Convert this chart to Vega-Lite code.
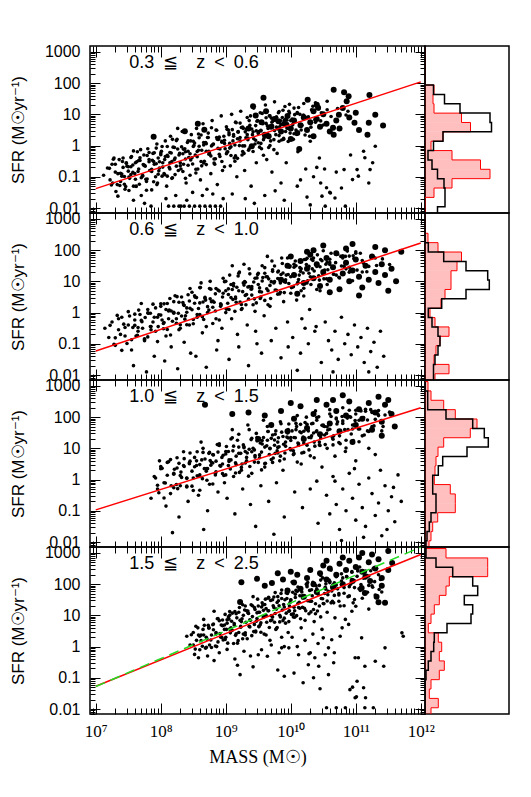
{
"$schema":"https://vega.github.io/schema/vega-lite/v6.json",
"padding":{"left":8,"top":43,"right":0,"bottom":0},
"config":{"view":{"stroke":"black","strokeWidth":1.5},"axis":{"tickColor":"black","tickWidth":1,"grid":false,"domain":false,"labelColor":"black","titleColor":"black","labelOverlap":false,"labelFlush":false}},
"datasets":{
"p1":[{"logM":7.12,"logSFR":-0.95},{"logM":7.18,"logSFR":-0.72},{"logM":7.22,"logSFR":-1.10},{"logM":7.25,"logSFR":-0.60},{"logM":7.28,"logSFR":-0.40},{"logM":7.30,"logSFR":-0.85},{"logM":7.33,"logSFR":-1.25},{"logM":7.36,"logSFR":-0.45},{"logM":7.38,"logSFR":-1.15},{"logM":7.40,"logSFR":-0.98},{"logM":7.42,"logSFR":-0.70},{"logM":7.45,"logSFR":-1.40},{"logM":7.47,"logSFR":-0.55},{"logM":7.50,"logSFR":-0.82},{"logM":7.52,"logSFR":-1.05},{"logM":7.55,"logSFR":-0.35},{"logM":7.57,"logSFR":-0.62},{"logM":7.58,"logSFR":-1.75},{"logM":7.60,"logSFR":-0.90},{"logM":7.62,"logSFR":-1.30},{"logM":7.64,"logSFR":-0.20},{"logM":7.66,"logSFR":-0.75},{"logM":7.68,"logSFR":-0.48},{"logM":7.70,"logSFR":-1.60},{"logM":7.72,"logSFR":-0.95},{"logM":7.74,"logSFR":-0.30},{"logM":7.75,"logSFR":-1.85},{"logM":7.76,"logSFR":-0.66},{"logM":7.78,"logSFR":-1.15},{"logM":7.80,"logSFR":-0.10},{"logM":7.82,"logSFR":-0.52},{"logM":7.84,"logSFR":-0.80},{"logM":7.85,"logSFR":-1.94},{"logM":7.86,"logSFR":-1.42},{"logM":7.88,"logSFR":-0.25},{"logM":7.90,"logSFR":-0.60},{"logM":7.92,"logSFR":-1.00},{"logM":7.94,"logSFR":0.05},{"logM":7.95,"logSFR":-1.20},{"logM":7.96,"logSFR":-0.40},{"logM":7.98,"logSFR":-0.72},{"logM":8.01,"logSFR":-0.18},{"logM":8.03,"logSFR":-0.55},{"logM":8.05,"logSFR":-0.90},{"logM":8.07,"logSFR":0.15},{"logM":8.08,"logSFR":-1.70},{"logM":8.09,"logSFR":-1.30},{"logM":8.11,"logSFR":-0.35},{"logM":8.12,"logSFR":-1.94},{"logM":8.13,"logSFR":-0.70},{"logM":8.15,"logSFR":0.30},{"logM":8.17,"logSFR":-1.05},{"logM":8.19,"logSFR":-0.05},{"logM":8.20,"logSFR":-1.94},{"logM":8.21,"logSFR":-0.45},{"logM":8.23,"logSFR":-1.60},{"logM":8.25,"logSFR":0.20},{"logM":8.26,"logSFR":0.55},{"logM":8.27,"logSFR":-0.80},{"logM":8.28,"logSFR":-1.94},{"logM":8.29,"logSFR":-0.25},{"logM":8.31,"logSFR":-1.94},{"logM":8.33,"logSFR":0.45},{"logM":8.35,"logSFR":-0.60},{"logM":8.36,"logSFR":-1.94},{"logM":8.37,"logSFR":-0.10},{"logM":8.39,"logSFR":-1.20},{"logM":8.40,"logSFR":-1.75},{"logM":8.41,"logSFR":0.10},{"logM":8.43,"logSFR":-0.38},{"logM":8.44,"logSFR":-1.94},{"logM":8.45,"logSFR":-0.95},{"logM":8.47,"logSFR":0.35},{"logM":8.49,"logSFR":-1.50},{"logM":8.51,"logSFR":0.00},{"logM":8.52,"logSFR":-1.94},{"logM":8.53,"logSFR":-0.30},{"logM":8.55,"logSFR":0.55},{"logM":8.57,"logSFR":-0.75},{"logM":8.59,"logSFR":0.25},{"logM":8.60,"logSFR":-1.94},{"logM":8.61,"logSFR":-1.10},{"logM":8.63,"logSFR":-0.15},{"logM":8.64,"logSFR":-1.60},{"logM":8.65,"logSFR":0.70},{"logM":8.67,"logSFR":-0.50},{"logM":8.68,"logSFR":-1.94},{"logM":8.69,"logSFR":0.10},{"logM":8.71,"logSFR":-1.40},{"logM":8.73,"logSFR":0.40},{"logM":8.75,"logSFR":-0.25},{"logM":8.76,"logSFR":-1.94},{"logM":8.77,"logSFR":-0.90},{"logM":8.79,"logSFR":0.80},{"logM":8.80,"logSFR":-1.55},{"logM":8.81,"logSFR":0.05},{"logM":8.83,"logSFR":-0.60},{"logM":8.84,"logSFR":-1.94},{"logM":8.85,"logSFR":0.50},{"logM":8.87,"logSFR":-1.25},{"logM":8.89,"logSFR":0.20},{"logM":8.91,"logSFR":-0.35},{"logM":8.92,"logSFR":-1.94},{"logM":8.93,"logSFR":0.95},{"logM":8.95,"logSFR":-0.80},{"logM":8.96,"logSFR":-1.70},{"logM":8.97,"logSFR":0.30},{"logM":8.99,"logSFR":-0.10},{"logM":9.01,"logSFR":0.60},{"logM":9.03,"logSFR":-0.20},{"logM":9.05,"logSFR":0.35},{"logM":9.07,"logSFR":-0.65},{"logM":9.09,"logSFR":1.00},{"logM":9.10,"logSFR":-1.55},{"logM":9.11,"logSFR":0.15},{"logM":9.13,"logSFR":-0.40},{"logM":9.15,"logSFR":0.75},{"logM":9.17,"logSFR":-1.00},{"logM":9.19,"logSFR":0.45},{"logM":9.21,"logSFR":0.00},{"logM":9.23,"logSFR":1.10},{"logM":9.25,"logSFR":-0.30},{"logM":9.27,"logSFR":0.55},{"logM":9.29,"logSFR":-0.80},{"logM":9.30,"logSFR":-1.70},{"logM":9.31,"logSFR":0.25},{"logM":9.33,"logSFR":0.90},{"logM":9.35,"logSFR":-0.15},{"logM":9.37,"logSFR":0.65},{"logM":9.39,"logSFR":-1.30},{"logM":9.41,"logSFR":0.35},{"logM":9.43,"logSFR":1.20},{"logM":9.44,"logSFR":-1.85},{"logM":9.45,"logSFR":0.05},{"logM":9.47,"logSFR":-0.55},{"logM":9.49,"logSFR":0.80},{"logM":9.51,"logSFR":0.45},{"logM":9.53,"logSFR":1.05},{"logM":9.55,"logSFR":-0.10},{"logM":9.57,"logSFR":0.70},{"logM":9.59,"logSFR":0.25},{"logM":9.60,"logSFR":-1.60},{"logM":9.61,"logSFR":1.30},{"logM":9.63,"logSFR":-0.45},{"logM":9.65,"logSFR":0.55},{"logM":9.67,"logSFR":0.95},{"logM":9.69,"logSFR":0.15},{"logM":9.71,"logSFR":-0.85},{"logM":9.73,"logSFR":0.80},{"logM":9.75,"logSFR":1.40},{"logM":9.76,"logSFR":-1.45},{"logM":9.77,"logSFR":0.35},{"logM":9.79,"logSFR":-0.25},{"logM":9.81,"logSFR":1.05},{"logM":9.83,"logSFR":0.60},{"logM":9.85,"logSFR":-1.20},{"logM":9.87,"logSFR":0.90},{"logM":9.89,"logSFR":0.20},{"logM":9.90,"logSFR":-1.75},{"logM":9.91,"logSFR":1.25},{"logM":9.93,"logSFR":-0.55},{"logM":9.95,"logSFR":0.70},{"logM":9.97,"logSFR":1.10},{"logM":9.99,"logSFR":0.40},{"logM":10.02,"logSFR":0.85},{"logM":10.05,"logSFR":1.20},{"logM":10.08,"logSFR":0.50},{"logM":10.10,"logSFR":-1.30},{"logM":10.11,"logSFR":-0.20},{"logM":10.14,"logSFR":1.00},{"logM":10.15,"logSFR":-1.10},{"logM":10.17,"logSFR":0.65},{"logM":10.20,"logSFR":1.35},{"logM":10.23,"logSFR":-0.75},{"logM":10.25,"logSFR":-1.65},{"logM":10.26,"logSFR":0.90},{"logM":10.29,"logSFR":0.30},{"logM":10.30,"logSFR":-1.90},{"logM":10.32,"logSFR":1.15},{"logM":10.35,"logSFR":-1.00},{"logM":10.38,"logSFR":0.75},{"logM":10.40,"logSFR":-0.70},{"logM":10.41,"logSFR":1.30},{"logM":10.44,"logSFR":-0.40},{"logM":10.46,"logSFR":-1.20},{"logM":10.47,"logSFR":1.05},{"logM":10.48,"logSFR":-1.62},{"logM":10.52,"logSFR":-0.75},{"logM":10.53,"logSFR":-1.94},{"logM":10.55,"logSFR":-1.35},{"logM":10.60,"logSFR":-1.50},{"logM":10.61,"logSFR":-1.52},{"logM":10.65,"logSFR":0.60},{"logM":10.68,"logSFR":-1.68},{"logM":10.70,"logSFR":-0.85},{"logM":10.78,"logSFR":-1.36},{"logM":10.82,"logSFR":-0.77},{"logM":10.84,"logSFR":-1.94},{"logM":10.88,"logSFR":1.10},{"logM":10.92,"logSFR":-0.30},{"logM":10.95,"logSFR":-1.09},{"logM":11.02,"logSFR":-0.77},{"logM":11.04,"logSFR":-0.98},{"logM":11.12,"logSFR":-0.18},{"logM":11.14,"logSFR":-0.39},{"logM":11.20,"logSFR":-1.20},{"logM":11.22,"logSFR":-0.77},{"logM":11.26,"logSFR":-0.55},{"logM":11.30,"logSFR":-0.02},
{"logM":7.21,"logSFR":-0.73},{"logM":7.24,"logSFR":-1.26},{"logM":7.27,"logSFR":-0.44},{"logM":7.31,"logSFR":-1.47},{"logM":7.34,"logSFR":-0.90},{"logM":7.37,"logSFR":-1.28},{"logM":7.41,"logSFR":-0.51},{"logM":7.44,"logSFR":-0.99},{"logM":7.48,"logSFR":-0.66},{"logM":7.51,"logSFR":-1.44},{"logM":7.54,"logSFR":-0.38},{"logM":7.57,"logSFR":-0.86},{"logM":7.61,"logSFR":-1.08},{"logM":7.63,"logSFR":-0.52},{"logM":7.67,"logSFR":-1.24},{"logM":7.69,"logSFR":-0.13},{"logM":7.73,"logSFR":-0.61},{"logM":7.77,"logSFR":-1.08},{"logM":7.79,"logSFR":-0.32},{"logM":7.83,"logSFR":-0.80},{"logM":7.87,"logSFR":-0.47},{"logM":7.89,"logSFR":-1.16},{"logM":7.93,"logSFR":-0.08},{"logM":7.97,"logSFR":-0.81},{"logM":8.00,"logSFR":-0.29},{"logM":8.02,"logSFR":-0.98},{"logM":8.06,"logSFR":-0.45},{"logM":8.10,"logSFR":-0.03},{"logM":8.14,"logSFR":-0.75},{"logM":8.16,"logSFR":-0.24},{"logM":8.18,"logSFR":-1.03},{"logM":8.22,"logSFR":-0.40},{"logM":8.24,"logSFR":0.16},{"logM":8.30,"logSFR":-0.55},{"logM":8.32,"logSFR":-0.04},{"logM":8.34,"logSFR":-0.83},{"logM":8.38,"logSFR":-0.20},{"logM":8.42,"logSFR":-0.63},{"logM":8.46,"logSFR":0.15},{"logM":8.48,"logSFR":-0.39},{"logM":8.50,"logSFR":-0.03},{"logM":8.54,"logSFR":-0.76},{"logM":8.56,"logSFR":-0.19},{"logM":8.58,"logSFR":0.37},{"logM":8.62,"logSFR":-0.51},{"logM":8.66,"logSFR":0.02},{"logM":8.70,"logSFR":-0.61},{"logM":8.72,"logSFR":0.26},{"logM":8.74,"logSFR":-0.28},{"logM":8.78,"logSFR":-0.01},{"logM":8.82,"logSFR":-0.43},{"logM":8.86,"logSFR":0.49},{"logM":8.88,"logSFR":-0.09},{"logM":8.90,"logSFR":0.27},{"logM":8.94,"logSFR":-0.51},{"logM":8.98,"logSFR":0.17},{"logM":9.02,"logSFR":-0.21},{"logM":9.04,"logSFR":0.50},{"logM":9.06,"logSFR":0.07},{"logM":9.08,"logSFR":-0.32},{"logM":9.12,"logSFR":0.35},{"logM":9.14,"logSFR":0.02},{"logM":9.16,"logSFR":0.73},{"logM":9.18,"logSFR":-0.41},{"logM":9.22,"logSFR":0.26},{"logM":9.24,"logSFR":0.58},{"logM":9.26,"logSFR":-0.01},{"logM":9.28,"logSFR":-0.25},{"logM":9.32,"logSFR":0.53},{"logM":9.34,"logSFR":0.24},{"logM":9.36,"logSFR":0.80},{"logM":9.38,"logSFR":-0.03},{"logM":9.42,"logSFR":0.44},{"logM":9.46,"logSFR":0.17},{"logM":9.48,"logSFR":0.78},{"logM":9.52,"logSFR":-0.05},{"logM":9.54,"logSFR":0.47},{"logM":9.56,"logSFR":1.03},{"logM":9.58,"logSFR":0.19},{"logM":9.62,"logSFR":0.71},{"logM":9.64,"logSFR":0.38},{"logM":9.66,"logSFR":-0.06},{"logM":9.68,"logSFR":0.95},{"logM":9.72,"logSFR":0.63},{"logM":9.74,"logSFR":0.19},{"logM":9.78,"logSFR":0.91},{"logM":9.80,"logSFR":0.53},{"logM":9.82,"logSFR":0.14},{"logM":9.84,"logSFR":0.80},{"logM":9.88,"logSFR":1.13},{"logM":9.92,"logSFR":0.45},{"logM":9.94,"logSFR":0.81},{"logM":9.96,"logSFR":0.13},{"logM":9.98,"logSFR":1.04},{"logM":10.03,"logSFR":0.67},{"logM":10.06,"logSFR":0.99},{"logM":10.09,"logSFR":0.36},{"logM":10.12,"logSFR":1.22},{"logM":10.16,"logSFR":0.65},{"logM":10.19,"logSFR":0.97},{"logM":10.22,"logSFR":0.34},{"logM":10.27,"logSFR":0.92},{"logM":10.31,"logSFR":0.59},{"logM":10.34,"logSFR":1.26},{"logM":10.37,"logSFR":0.83},{"logM":10.43,"logSFR":1.17},{"logM":10.50,"logSFR":0.66},{"logM":10.56,"logSFR":1.15},{"logM":10.62,"logSFR":0.93},{"logM":10.72,"logSFR":1.19},{"logM":10.85,"logSFR":0.98},
{"logM":7.26,"logSFR":-1.20},{"logM":7.30,"logSFR":-0.60},{"logM":7.34,"logSFR":-1.62},{"logM":7.38,"logSFR":-0.89},{"logM":7.42,"logSFR":-0.40},{"logM":7.46,"logSFR":-1.31},{"logM":7.50,"logSFR":-0.68},{"logM":7.54,"logSFR":-0.93},{"logM":7.58,"logSFR":-0.17},{"logM":7.62,"logSFR":-1.31},{"logM":7.66,"logSFR":-0.48},{"logM":7.70,"logSFR":-1.03},{"logM":7.74,"logSFR":-0.63},{"logM":7.78,"logSFR":-1.43},{"logM":7.82,"logSFR":-0.22},{"logM":7.86,"logSFR":-0.83},{"logM":7.90,"logSFR":-0.23},{"logM":7.94,"logSFR":-1.25},{"logM":7.98,"logSFR":-0.52},{"logM":8.02,"logSFR":-0.03},{"logM":8.06,"logSFR":-0.93},{"logM":8.10,"logSFR":-0.31},{"logM":8.14,"logSFR":-0.55},{"logM":8.18,"logSFR":0.20},{"logM":8.22,"logSFR":-0.93},{"logM":8.26,"logSFR":-0.11},{"logM":8.30,"logSFR":-0.65},{"logM":8.34,"logSFR":-0.26},{"logM":8.38,"logSFR":-1.05},{"logM":8.42,"logSFR":0.15},{"logM":8.46,"logSFR":-0.46},{"logM":8.50,"logSFR":0.14},{"logM":8.54,"logSFR":-0.88},{"logM":8.58,"logSFR":-0.15},{"logM":8.62,"logSFR":0.34},{"logM":8.66,"logSFR":-0.56},{"logM":8.70,"logSFR":0.06},{"logM":8.74,"logSFR":-0.18},{"logM":8.78,"logSFR":0.57},{"logM":8.82,"logSFR":-0.56},{"logM":8.86,"logSFR":0.26},{"logM":8.90,"logSFR":-0.28},{"logM":8.94,"logSFR":0.11},{"logM":8.98,"logSFR":-0.68},{"logM":9.02,"logSFR":0.52},{"logM":9.06,"logSFR":-0.08},{"logM":9.10,"logSFR":0.51},{"logM":9.14,"logSFR":-0.50},{"logM":9.18,"logSFR":0.22},{"logM":9.22,"logSFR":0.72},{"logM":9.26,"logSFR":-0.19},{"logM":9.30,"logSFR":0.44},{"logM":9.34,"logSFR":0.19},{"logM":9.38,"logSFR":0.95},{"logM":9.42,"logSFR":-0.19},{"logM":9.46,"logSFR":0.64},{"logM":9.50,"logSFR":0.09},{"logM":9.54,"logSFR":0.49},{"logM":9.58,"logSFR":-0.31},{"logM":9.62,"logSFR":0.89},{"logM":9.66,"logSFR":0.29},{"logM":9.70,"logSFR":0.88},{"logM":9.74,"logSFR":-0.13},{"logM":9.78,"logSFR":0.59},{"logM":9.82,"logSFR":1.09},{"logM":9.86,"logSFR":0.18},{"logM":9.90,"logSFR":0.81},{"logM":9.94,"logSFR":0.56},{"logM":9.98,"logSFR":1.32},{"logM":10.04,"logSFR":0.20},{"logM":10.10,"logSFR":1.03},{"logM":10.16,"logSFR":0.50},{"logM":10.22,"logSFR":0.91},{"logM":10.30,"logSFR":0.14},{"logM":10.38,"logSFR":1.37},{"logM":10.46,"logSFR":0.79},{"logM":10.56,"logSFR":1.42},
{"logM":7.40,"logSFR":-0.91},{"logM":7.44,"logSFR":-1.24},{"logM":7.47,"logSFR":-0.57},{"logM":7.51,"logSFR":-1.01},{"logM":7.54,"logSFR":-0.68},{"logM":7.58,"logSFR":-1.30},{"logM":7.61,"logSFR":-0.55},{"logM":7.65,"logSFR":-0.83},{"logM":7.68,"logSFR":-0.39},{"logM":7.72,"logSFR":-0.98},{"logM":7.75,"logSFR":-0.63},{"logM":7.79,"logSFR":-1.07},{"logM":7.82,"logSFR":-0.45},{"logM":7.86,"logSFR":-0.76},{"logM":7.89,"logSFR":-0.51},{"logM":7.93,"logSFR":-0.58},{"logM":7.96,"logSFR":-0.92},{"logM":8.00,"logSFR":-0.24},{"logM":8.03,"logSFR":-0.69},{"logM":8.07,"logSFR":-0.35},{"logM":8.10,"logSFR":-0.98},{"logM":8.14,"logSFR":-0.22},{"logM":8.17,"logSFR":-0.51},{"logM":8.21,"logSFR":-0.06},{"logM":8.24,"logSFR":-0.66},{"logM":8.28,"logSFR":-0.30},{"logM":8.31,"logSFR":-0.75},{"logM":8.35,"logSFR":-0.12},{"logM":8.38,"logSFR":-0.43},{"logM":8.42,"logSFR":-0.18},{"logM":8.45,"logSFR":-0.26},{"logM":8.49,"logSFR":-0.59},{"logM":8.52,"logSFR":0.08},{"logM":8.56,"logSFR":-0.36},{"logM":8.59,"logSFR":-0.02},{"logM":8.63,"logSFR":-0.65},{"logM":8.66,"logSFR":0.10},{"logM":8.70,"logSFR":-0.18},{"logM":8.73,"logSFR":0.26},{"logM":8.77,"logSFR":-0.33},{"logM":8.80,"logSFR":0.03},{"logM":8.84,"logSFR":-0.42},{"logM":8.87,"logSFR":0.20},{"logM":8.91,"logSFR":-0.11},{"logM":8.94,"logSFR":0.14},{"logM":8.98,"logSFR":0.07},{"logM":9.01,"logSFR":-0.26},{"logM":9.05,"logSFR":0.41},{"logM":9.08,"logSFR":-0.04},{"logM":9.12,"logSFR":0.30},{"logM":9.15,"logSFR":-0.33},{"logM":9.19,"logSFR":0.43},{"logM":9.22,"logSFR":0.15},{"logM":9.26,"logSFR":0.59},{"logM":9.29,"logSFR":-0.01},{"logM":9.33,"logSFR":0.35},{"logM":9.36,"logSFR":-0.10},{"logM":9.40,"logSFR":0.53},{"logM":9.43,"logSFR":0.22},{"logM":9.47,"logSFR":0.47},{"logM":9.50,"logSFR":0.39},{"logM":9.54,"logSFR":0.07},{"logM":9.57,"logSFR":0.73},{"logM":9.61,"logSFR":0.29},{"logM":9.64,"logSFR":0.63},{"logM":9.68,"logSFR":0.00},{"logM":9.71,"logSFR":0.75},{"logM":9.75,"logSFR":0.48},{"logM":9.78,"logSFR":0.91},{"logM":9.82,"logSFR":0.32},{"logM":9.85,"logSFR":0.68},{"logM":9.89,"logSFR":0.23},{"logM":9.92,"logSFR":0.85},{"logM":9.96,"logSFR":0.55},{"logM":10.00,"logSFR":0.80},{"logM":10.05,"logSFR":0.38},{"logM":10.10,"logSFR":1.06},{"logM":10.15,"logSFR":0.62},{"logM":10.20,"logSFR":0.97},
{"logM":7.89,"logSFR":0.28,"big":1},{"logM":8.37,"logSFR":0.46,"big":1},{"logM":8.57,"logSFR":0.70,"big":1},{"logM":8.67,"logSFR":0.51,"big":1},{"logM":9.35,"logSFR":0.55,"big":1},{"logM":9.40,"logSFR":-0.02,"big":1},{"logM":9.42,"logSFR":1.26,"big":1},{"logM":9.46,"logSFR":0.96,"big":1},{"logM":9.55,"logSFR":0.75,"big":1},{"logM":9.58,"logSFR":1.53,"big":1},{"logM":9.60,"logSFR":0.35,"big":1},{"logM":9.62,"logSFR":1.10,"big":1},{"logM":9.66,"logSFR":0.30,"big":1},{"logM":9.70,"logSFR":0.60,"big":1},{"logM":9.75,"logSFR":0.85,"big":1},{"logM":9.81,"logSFR":0.78,"big":1},{"logM":9.85,"logSFR":0.45,"big":1},{"logM":9.90,"logSFR":0.70,"big":1},{"logM":9.95,"logSFR":0.95,"big":1},{"logM":10.00,"logSFR":0.21,"big":1},{"logM":10.00,"logSFR":0.55,"big":1},{"logM":10.05,"logSFR":0.80,"big":1},{"logM":10.10,"logSFR":0.40,"big":1},{"logM":10.13,"logSFR":-0.11,"big":1},{"logM":10.15,"logSFR":0.65,"big":1},{"logM":10.20,"logSFR":0.90,"big":1},{"logM":10.25,"logSFR":0.50,"big":1},{"logM":10.26,"logSFR":1.47,"big":1},{"logM":10.30,"logSFR":0.75,"big":1},{"logM":10.35,"logSFR":0.30,"big":1},{"logM":10.35,"logSFR":1.10,"big":1},{"logM":10.40,"logSFR":0.85,"big":1},{"logM":10.40,"logSFR":1.31,"big":1},{"logM":10.42,"logSFR":1.21,"big":1},{"logM":10.45,"logSFR":0.60,"big":1},{"logM":10.50,"logSFR":1.00,"big":1},{"logM":10.55,"logSFR":0.70,"big":1},{"logM":10.60,"logSFR":0.45,"big":1},{"logM":10.65,"logSFR":0.57,"big":1},{"logM":10.66,"logSFR":0.35,"big":1},{"logM":10.66,"logSFR":1.79,"big":1},{"logM":10.70,"logSFR":0.80,"big":1},{"logM":10.74,"logSFR":0.99,"big":1},{"logM":10.75,"logSFR":0.55,"big":1},{"logM":10.80,"logSFR":1.20,"big":1},{"logM":10.82,"logSFR":1.71,"big":1},{"logM":10.86,"logSFR":1.42,"big":1},{"logM":10.89,"logSFR":1.58,"big":1},{"logM":10.90,"logSFR":0.90,"big":1},{"logM":10.98,"logSFR":0.73,"big":1},{"logM":11.00,"logSFR":1.05,"big":1},{"logM":11.05,"logSFR":0.50,"big":1},{"logM":11.18,"logSFR":0.35,"big":1},{"logM":11.20,"logSFR":0.73,"big":1},{"logM":11.21,"logSFR":1.62,"big":1},{"logM":11.30,"logSFR":0.99,"big":1},{"logM":11.42,"logSFR":0.64,"big":1}],
"p2":[{"logM":7.14,"logSFR":-0.50},{"logM":7.20,"logSFR":-0.80},{"logM":7.25,"logSFR":-0.30},{"logM":7.30,"logSFR":-1.05},{"logM":7.35,"logSFR":-0.55},{"logM":7.40,"logSFR":-0.15},{"logM":7.45,"logSFR":-0.75},{"logM":7.50,"logSFR":-0.40},{"logM":7.55,"logSFR":-1.20},{"logM":7.58,"logSFR":-1.70},{"logM":7.60,"logSFR":-0.05},{"logM":7.65,"logSFR":-0.60},{"logM":7.70,"logSFR":-0.25},{"logM":7.75,"logSFR":-0.90},{"logM":7.78,"logSFR":-1.90},{"logM":7.80,"logSFR":0.10},{"logM":7.85,"logSFR":-0.45},{"logM":7.90,"logSFR":-1.40},{"logM":7.95,"logSFR":-0.15},{"logM":8.00,"logSFR":0.20},{"logM":8.04,"logSFR":-0.35},{"logM":8.06,"logSFR":-1.55},{"logM":8.08,"logSFR":-0.75},{"logM":8.12,"logSFR":0.05},{"logM":8.14,"logSFR":0.45},{"logM":8.16,"logSFR":-1.10},{"logM":8.20,"logSFR":0.35},{"logM":8.24,"logSFR":-0.20},{"logM":8.26,"logSFR":-1.80},{"logM":8.28,"logSFR":-0.55},{"logM":8.32,"logSFR":0.50},{"logM":8.36,"logSFR":-0.95},{"logM":8.38,"logSFR":-0.10},{"logM":8.40,"logSFR":0.15},{"logM":8.44,"logSFR":-0.40},{"logM":8.46,"logSFR":-1.30},{"logM":8.48,"logSFR":0.65},{"logM":8.52,"logSFR":0.30},{"logM":8.54,"logSFR":-1.40},{"logM":8.56,"logSFR":-0.15},{"logM":8.60,"logSFR":0.80},{"logM":8.62,"logSFR":0.95},{"logM":8.64,"logSFR":-0.65},{"logM":8.68,"logSFR":0.45},{"logM":8.70,"logSFR":-1.75},{"logM":8.72,"logSFR":0.00},{"logM":8.76,"logSFR":1.00},{"logM":8.78,"logSFR":0.35},{"logM":8.80,"logSFR":-0.35},{"logM":8.84,"logSFR":0.60},{"logM":8.86,"logSFR":-1.20},{"logM":8.88,"logSFR":-0.90},{"logM":8.92,"logSFR":0.20},{"logM":8.94,"logSFR":-0.50},{"logM":8.96,"logSFR":1.10},{"logM":9.00,"logSFR":0.70},{"logM":9.03,"logSFR":0.30},{"logM":9.05,"logSFR":-1.50},{"logM":9.06,"logSFR":1.20},{"logM":9.09,"logSFR":-0.20},{"logM":9.10,"logSFR":1.50},{"logM":9.12,"logSFR":0.85},{"logM":9.15,"logSFR":0.45},{"logM":9.18,"logSFR":-0.70},{"logM":9.20,"logSFR":-1.10},{"logM":9.21,"logSFR":1.30},{"logM":9.24,"logSFR":0.10},{"logM":9.27,"logSFR":0.95},{"logM":9.28,"logSFR":1.55},{"logM":9.30,"logSFR":0.55},{"logM":9.33,"logSFR":-0.40},{"logM":9.35,"logSFR":-1.70},{"logM":9.36,"logSFR":1.40},{"logM":9.39,"logSFR":0.75},{"logM":9.42,"logSFR":0.25},{"logM":9.45,"logSFR":1.10},{"logM":9.46,"logSFR":-0.60},{"logM":9.48,"logSFR":-1.00},{"logM":9.50,"logSFR":0.90},{"logM":9.53,"logSFR":0.45},{"logM":9.55,"logSFR":-1.30},{"logM":9.56,"logSFR":1.50},{"logM":9.59,"logSFR":-0.10},{"logM":9.62,"logSFR":1.15},{"logM":9.64,"logSFR":1.80},{"logM":9.65,"logSFR":0.70},{"logM":9.68,"logSFR":0.20},{"logM":9.70,"logSFR":-0.90},{"logM":9.71,"logSFR":1.65},{"logM":9.74,"logSFR":0.95},{"logM":9.77,"logSFR":-0.50},{"logM":9.80,"logSFR":1.30},{"logM":9.83,"logSFR":0.60},{"logM":9.85,"logSFR":-1.45},{"logM":9.86,"logSFR":1.75},{"logM":9.89,"logSFR":0.35},{"logM":9.92,"logSFR":1.05},{"logM":9.95,"logSFR":-0.30},{"logM":9.96,"logSFR":-1.10},{"logM":9.98,"logSFR":1.45},{"logM":10.01,"logSFR":0.80},{"logM":10.03,"logSFR":-0.80},{"logM":10.05,"logSFR":1.55},{"logM":10.09,"logSFR":0.40},{"logM":10.10,"logSFR":-1.85},{"logM":10.13,"logSFR":1.20},{"logM":10.15,"logSFR":-1.30},{"logM":10.17,"logSFR":-0.20},{"logM":10.21,"logSFR":1.70},{"logM":10.22,"logSFR":-0.50},{"logM":10.25,"logSFR":0.95},{"logM":10.27,"logSFR":-1.00},{"logM":10.29,"logSFR":0.10},{"logM":10.33,"logSFR":1.40},{"logM":10.37,"logSFR":-0.60},{"logM":10.39,"logSFR":-0.45},{"logM":10.41,"logSFR":1.85},{"logM":10.45,"logSFR":0.70},{"logM":10.47,"logSFR":-1.60},{"logM":10.49,"logSFR":1.25},{"logM":10.53,"logSFR":-0.30},{"logM":10.56,"logSFR":0.90},{"logM":10.58,"logSFR":-0.90},{"logM":10.60,"logSFR":1.60},{"logM":10.63,"logSFR":-1.20},{"logM":10.65,"logSFR":-1.90},{"logM":10.68,"logSFR":-0.60},{"logM":10.70,"logSFR":1.20},{"logM":10.73,"logSFR":-1.50},{"logM":10.78,"logSFR":-0.15},{"logM":10.80,"logSFR":1.75},{"logM":10.83,"logSFR":-1.00},{"logM":10.88,"logSFR":-0.70},{"logM":10.90,"logSFR":1.45},{"logM":10.93,"logSFR":-1.35},{"logM":10.98,"logSFR":-0.40},{"logM":11.00,"logSFR":1.90},{"logM":11.03,"logSFR":-1.10},{"logM":11.08,"logSFR":-0.80},{"logM":11.10,"logSFR":1.30},{"logM":11.13,"logSFR":-1.60},{"logM":11.18,"logSFR":-0.50},{"logM":11.20,"logSFR":-1.90},{"logM":11.23,"logSFR":-1.25},{"logM":11.28,"logSFR":-0.95},{"logM":11.33,"logSFR":-1.75},{"logM":11.38,"logSFR":-0.60},{"logM":11.43,"logSFR":-1.40},
{"logM":7.22,"logSFR":-0.41},{"logM":7.28,"logSFR":-1.02},{"logM":7.33,"logSFR":-0.09},{"logM":7.38,"logSFR":-0.70},{"logM":7.43,"logSFR":-0.37},{"logM":7.48,"logSFR":-0.99},{"logM":7.52,"logSFR":-0.11},{"logM":7.57,"logSFR":-0.48},{"logM":7.62,"logSFR":-0.75},{"logM":7.66,"logSFR":0.08},{"logM":7.71,"logSFR":-0.29},{"logM":7.75,"logSFR":-0.86},{"logM":7.81,"logSFR":-0.02},{"logM":7.84,"logSFR":-0.45},{"logM":7.88,"logSFR":0.27},{"logM":7.92,"logSFR":-0.60},{"logM":7.97,"logSFR":-0.07},{"logM":8.02,"logSFR":-0.24},{"logM":8.05,"logSFR":0.28},{"logM":8.10,"logSFR":-0.54},{"logM":8.13,"logSFR":0.08},{"logM":8.18,"logSFR":-0.28},{"logM":8.22,"logSFR":0.54},{"logM":8.27,"logSFR":-0.02},{"logM":8.30,"logSFR":-0.50},{"logM":8.34,"logSFR":0.32},{"logM":8.37,"logSFR":-0.21},{"logM":8.42,"logSFR":0.57},{"logM":8.45,"logSFR":0.14},{"logM":8.50,"logSFR":-0.22},{"logM":8.53,"logSFR":0.49},{"logM":8.58,"logSFR":0.13},{"logM":8.61,"logSFR":0.80},{"logM":8.66,"logSFR":-0.22},{"logM":8.69,"logSFR":0.40},{"logM":8.74,"logSFR":0.08},{"logM":8.77,"logSFR":0.75},{"logM":8.82,"logSFR":0.33},{"logM":8.85,"logSFR":-0.20},{"logM":8.90,"logSFR":0.69},{"logM":8.93,"logSFR":0.25},{"logM":8.98,"logSFR":0.99},{"logM":9.01,"logSFR":0.11},{"logM":9.04,"logSFR":0.58},{"logM":9.08,"logSFR":0.90},{"logM":9.11,"logSFR":0.42},{"logM":9.14,"logSFR":0.04},{"logM":9.17,"logSFR":0.81},{"logM":9.19,"logSFR":1.17},{"logM":9.22,"logSFR":0.34},{"logM":9.26,"logSFR":0.67},{"logM":9.29,"logSFR":0.99},{"logM":9.31,"logSFR":0.25},{"logM":9.34,"logSFR":0.82},{"logM":9.37,"logSFR":1.24},{"logM":9.40,"logSFR":0.56},{"logM":9.43,"logSFR":0.98},{"logM":9.47,"logSFR":0.31},{"logM":9.49,"logSFR":1.22},{"logM":9.52,"logSFR":0.79},{"logM":9.54,"logSFR":0.50},{"logM":9.57,"logSFR":1.12},{"logM":9.60,"logSFR":1.44},{"logM":9.63,"logSFR":0.76},{"logM":9.66,"logSFR":1.08},{"logM":9.69,"logSFR":0.45},{"logM":9.72,"logSFR":1.37},{"logM":9.75,"logSFR":0.99},{"logM":9.78,"logSFR":0.71},{"logM":9.81,"logSFR":1.33},{"logM":9.84,"logSFR":0.95},{"logM":9.87,"logSFR":1.57},{"logM":9.90,"logSFR":0.64},{"logM":9.93,"logSFR":1.20},{"logM":9.97,"logSFR":0.93},{"logM":9.99,"logSFR":1.49},{"logM":10.02,"logSFR":0.81},{"logM":10.04,"logSFR":1.23},{"logM":10.07,"logSFR":1.65},{"logM":10.11,"logSFR":0.97},{"logM":10.14,"logSFR":1.44},{"logM":10.16,"logSFR":0.70},{"logM":10.19,"logSFR":1.27},{"logM":10.23,"logSFR":1.70},{"logM":10.26,"logSFR":1.02},{"logM":10.28,"logSFR":1.48},{"logM":10.31,"logSFR":0.90},{"logM":10.34,"logSFR":1.67},{"logM":10.36,"logSFR":1.33},{"logM":10.43,"logSFR":1.18},{"logM":10.46,"logSFR":1.70},{"logM":10.51,"logSFR":1.08},{"logM":10.54,"logSFR":1.55},{"logM":10.57,"logSFR":1.37},{"logM":10.62,"logSFR":1.90},{"logM":10.66,"logSFR":1.23},{"logM":10.69,"logSFR":1.60},{"logM":10.74,"logSFR":1.13},{"logM":10.77,"logSFR":1.80},{"logM":10.82,"logSFR":1.48},{"logM":10.87,"logSFR":1.97},{"logM":10.91,"logSFR":1.34},{"logM":10.97,"logSFR":1.73},{"logM":11.02,"logSFR":1.36},{"logM":11.07,"logSFR":1.90},{"logM":11.12,"logSFR":1.58},{"logM":11.17,"logSFR":1.31},{"logM":11.24,"logSFR":1.76},{"logM":11.32,"logSFR":1.51},{"logM":11.41,"logSFR":1.72},{"logM":11.52,"logSFR":1.54},
{"logM":7.30,"logSFR":-0.81},{"logM":7.35,"logSFR":-0.20},{"logM":7.40,"logSFR":-1.21},{"logM":7.45,"logSFR":-0.48},{"logM":7.50,"logSFR":0.03},{"logM":7.55,"logSFR":-0.87},{"logM":7.60,"logSFR":-0.24},{"logM":7.65,"logSFR":-0.48},{"logM":7.70,"logSFR":0.29},{"logM":7.75,"logSFR":-0.84},{"logM":7.80,"logSFR":-0.01},{"logM":7.85,"logSFR":-0.55},{"logM":7.90,"logSFR":-0.15},{"logM":7.95,"logSFR":-0.93},{"logM":8.00,"logSFR":0.28},{"logM":8.05,"logSFR":-0.32},{"logM":8.10,"logSFR":0.29},{"logM":8.15,"logSFR":-0.72},{"logM":8.20,"logSFR":0.01},{"logM":8.25,"logSFR":0.51},{"logM":8.30,"logSFR":-0.39},{"logM":8.35,"logSFR":0.25},{"logM":8.40,"logSFR":0.01},{"logM":8.45,"logSFR":0.77},{"logM":8.50,"logSFR":-0.36},{"logM":8.55,"logSFR":0.48},{"logM":8.60,"logSFR":-0.06},{"logM":8.65,"logSFR":0.34},{"logM":8.70,"logSFR":-0.45},{"logM":8.75,"logSFR":0.77},{"logM":8.80,"logSFR":0.17},{"logM":8.85,"logSFR":0.77},{"logM":8.90,"logSFR":-0.24},{"logM":8.95,"logSFR":0.50},{"logM":9.00,"logSFR":1.00},{"logM":9.05,"logSFR":0.10},{"logM":9.10,"logSFR":0.74},{"logM":9.15,"logSFR":0.50},{"logM":9.20,"logSFR":1.26},{"logM":9.25,"logSFR":0.13},{"logM":9.30,"logSFR":0.97},{"logM":9.35,"logSFR":0.43},{"logM":9.40,"logSFR":0.83},{"logM":9.45,"logSFR":0.04},{"logM":9.50,"logSFR":1.26},{"logM":9.55,"logSFR":0.66},{"logM":9.60,"logSFR":1.26},{"logM":9.65,"logSFR":0.25},{"logM":9.70,"logSFR":0.99},{"logM":9.75,"logSFR":1.49},{"logM":9.80,"logSFR":0.59},{"logM":9.85,"logSFR":1.22},{"logM":9.90,"logSFR":0.99},{"logM":9.95,"logSFR":1.75},{"logM":10.00,"logSFR":0.62},{"logM":10.05,"logSFR":1.45},{"logM":10.10,"logSFR":0.92},{"logM":10.15,"logSFR":1.32},{"logM":10.20,"logSFR":0.53},{"logM":10.25,"logSFR":1.74},{"logM":10.30,"logSFR":1.15},{"logM":10.35,"logSFR":1.75},{"logM":10.40,"logSFR":0.74},{"logM":10.45,"logSFR":1.47},{"logM":10.50,"logSFR":1.98},{"logM":10.55,"logSFR":1.08},{"logM":10.60,"logSFR":1.71},{"logM":10.65,"logSFR":1.47},{"logM":10.70,"logSFR":1.86},{"logM":10.75,"logSFR":1.11},{"logM":10.80,"logSFR":1.82},{"logM":10.85,"logSFR":1.40},{"logM":10.90,"logSFR":1.81},{"logM":10.95,"logSFR":1.02},{"logM":11.00,"logSFR":1.95},{"logM":11.10,"logSFR":1.67},{"logM":11.20,"logSFR":1.48},{"logM":11.30,"logSFR":1.75},
{"logM":7.60,"logSFR":-0.41},{"logM":7.64,"logSFR":-0.73},{"logM":7.68,"logSFR":-0.06},{"logM":7.72,"logSFR":-0.50},{"logM":7.76,"logSFR":-0.16},{"logM":7.80,"logSFR":-0.78},{"logM":7.84,"logSFR":-0.02},{"logM":7.88,"logSFR":-0.30},{"logM":7.92,"logSFR":0.15},{"logM":7.96,"logSFR":-0.45},{"logM":8.00,"logSFR":-0.08},{"logM":8.04,"logSFR":-0.52},{"logM":8.08,"logSFR":0.10},{"logM":8.12,"logSFR":-0.20},{"logM":8.16,"logSFR":0.05},{"logM":8.20,"logSFR":-0.02},{"logM":8.24,"logSFR":-0.34},{"logM":8.28,"logSFR":0.33},{"logM":8.32,"logSFR":-0.11},{"logM":8.36,"logSFR":0.23},{"logM":8.40,"logSFR":-0.39},{"logM":8.44,"logSFR":0.37},{"logM":8.48,"logSFR":0.09},{"logM":8.52,"logSFR":0.54},{"logM":8.56,"logSFR":-0.06},{"logM":8.60,"logSFR":0.31},{"logM":8.64,"logSFR":-0.13},{"logM":8.68,"logSFR":0.49},{"logM":8.72,"logSFR":0.19},{"logM":8.76,"logSFR":0.44},{"logM":8.80,"logSFR":0.37},{"logM":8.84,"logSFR":0.05},{"logM":8.88,"logSFR":0.72},{"logM":8.92,"logSFR":0.28},{"logM":8.96,"logSFR":0.62},{"logM":9.00,"logSFR":0.00},{"logM":9.04,"logSFR":0.76},{"logM":9.08,"logSFR":0.48},{"logM":9.12,"logSFR":0.93},{"logM":9.16,"logSFR":0.33},{"logM":9.20,"logSFR":0.70},{"logM":9.24,"logSFR":0.26},{"logM":9.28,"logSFR":0.88},{"logM":9.32,"logSFR":0.58},{"logM":9.36,"logSFR":0.83},{"logM":9.40,"logSFR":0.76},{"logM":9.44,"logSFR":0.44},{"logM":9.48,"logSFR":1.11},{"logM":9.52,"logSFR":0.67},{"logM":9.56,"logSFR":1.01},{"logM":9.60,"logSFR":0.39},{"logM":9.64,"logSFR":1.15},{"logM":9.68,"logSFR":0.87},{"logM":9.72,"logSFR":1.32},{"logM":9.76,"logSFR":0.72},{"logM":9.80,"logSFR":1.09},{"logM":9.84,"logSFR":0.65},{"logM":9.88,"logSFR":1.27},{"logM":9.92,"logSFR":0.97},{"logM":9.96,"logSFR":1.22},{"logM":10.00,"logSFR":1.15},{"logM":10.04,"logSFR":0.83},{"logM":10.08,"logSFR":1.50},{"logM":10.12,"logSFR":1.06},{"logM":10.16,"logSFR":1.40},{"logM":10.20,"logSFR":0.78},{"logM":10.24,"logSFR":1.54},{"logM":10.28,"logSFR":1.26},{"logM":10.32,"logSFR":1.71},{"logM":10.36,"logSFR":1.11},{"logM":10.40,"logSFR":1.48},{"logM":10.44,"logSFR":1.04},{"logM":10.48,"logSFR":1.66},{"logM":10.52,"logSFR":1.36},{"logM":10.56,"logSFR":1.61},{"logM":10.60,"logSFR":1.54},{"logM":10.66,"logSFR":1.23},{"logM":10.72,"logSFR":1.87},{"logM":10.78,"logSFR":1.49},{"logM":10.84,"logSFR":1.80},{"logM":10.90,"logSFR":1.29},{"logM":10.96,"logSFR":1.82},
{"logM":9.85,"logSFR":1.05,"big":1},{"logM":9.95,"logSFR":1.50,"big":1},{"logM":10.00,"logSFR":1.80,"big":1},{"logM":10.05,"logSFR":1.20,"big":1},{"logM":10.10,"logSFR":0.60,"big":1},{"logM":10.15,"logSFR":1.65,"big":1},{"logM":10.20,"logSFR":0.95,"big":1},{"logM":10.25,"logSFR":1.40,"big":1},{"logM":10.25,"logSFR":1.95,"big":1},{"logM":10.30,"logSFR":1.85,"big":1},{"logM":10.35,"logSFR":1.10,"big":1},{"logM":10.35,"logSFR":2.00,"big":1},{"logM":10.40,"logSFR":1.55,"big":1},{"logM":10.45,"logSFR":0.85,"big":1},{"logM":10.50,"logSFR":1.30,"big":1},{"logM":10.50,"logSFR":2.15,"big":1},{"logM":10.55,"logSFR":1.75,"big":1},{"logM":10.60,"logSFR":1.05,"big":1},{"logM":10.60,"logSFR":0.65,"big":1},{"logM":10.65,"logSFR":1.45,"big":1},{"logM":10.70,"logSFR":1.90,"big":1},{"logM":10.75,"logSFR":0.75,"big":1},{"logM":10.80,"logSFR":1.25,"big":1},{"logM":10.85,"logSFR":1.60,"big":1},{"logM":10.85,"logSFR":2.05,"big":1},{"logM":10.90,"logSFR":1.00,"big":1},{"logM":10.95,"logSFR":1.35,"big":1},{"logM":10.95,"logSFR":2.20,"big":1},{"logM":11.00,"logSFR":1.70,"big":1},{"logM":11.05,"logSFR":1.15,"big":1},{"logM":11.05,"logSFR":0.55,"big":1},{"logM":11.10,"logSFR":0.80,"big":1},{"logM":11.15,"logSFR":1.50,"big":1},{"logM":11.20,"logSFR":1.05,"big":1},{"logM":11.25,"logSFR":1.80,"big":1},{"logM":11.30,"logSFR":1.30,"big":1},{"logM":11.30,"logSFR":2.10,"big":1},{"logM":11.35,"logSFR":0.95,"big":1},{"logM":11.40,"logSFR":1.55,"big":1},{"logM":11.45,"logSFR":1.20,"big":1},{"logM":11.45,"logSFR":2.00,"big":1},{"logM":11.50,"logSFR":0.70,"big":1},{"logM":11.55,"logSFR":1.40,"big":1},{"logM":11.62,"logSFR":1.00,"big":1},{"logM":11.70,"logSFR":1.95,"big":1}],
"p3":[{"logM":7.85,"logSFR":-0.60},{"logM":7.90,"logSFR":0.10},{"logM":7.95,"logSFR":-0.30},{"logM":7.98,"logSFR":0.60},{"logM":8.00,"logSFR":0.35},{"logM":8.05,"logSFR":-0.10},{"logM":8.08,"logSFR":-0.85},{"logM":8.10,"logSFR":0.55},{"logM":8.15,"logSFR":-0.45},{"logM":8.18,"logSFR":-1.70},{"logM":8.20,"logSFR":0.20},{"logM":8.25,"logSFR":0.70},{"logM":8.28,"logSFR":-1.20},{"logM":8.30,"logSFR":-0.20},{"logM":8.35,"logSFR":0.45},{"logM":8.40,"logSFR":0.05},{"logM":8.42,"logSFR":-0.70},{"logM":8.45,"logSFR":0.85},{"logM":8.50,"logSFR":-0.35},{"logM":8.55,"logSFR":0.60},{"logM":8.58,"logSFR":-0.50},{"logM":8.60,"logSFR":0.15},{"logM":8.62,"logSFR":1.20},{"logM":8.65,"logSFR":1.00},{"logM":8.66,"logSFR":-1.60},{"logM":8.70,"logSFR":0.35},{"logM":8.72,"logSFR":-1.00},{"logM":8.75,"logSFR":-0.15},{"logM":8.78,"logSFR":0.55},{"logM":8.80,"logSFR":0.80},{"logM":8.85,"logSFR":0.25},{"logM":8.88,"logSFR":-0.40},{"logM":8.90,"logSFR":1.15},{"logM":8.95,"logSFR":0.50},{"logM":8.98,"logSFR":-0.10},{"logM":9.00,"logSFR":0.90},{"logM":9.02,"logSFR":-0.60},{"logM":9.04,"logSFR":0.45},{"logM":9.08,"logSFR":1.30},{"logM":9.10,"logSFR":1.60},{"logM":9.12,"logSFR":0.10},{"logM":9.14,"logSFR":-1.10},{"logM":9.16,"logSFR":0.75},{"logM":9.20,"logSFR":1.45},{"logM":9.24,"logSFR":0.30},{"logM":9.26,"logSFR":-0.30},{"logM":9.28,"logSFR":1.05},{"logM":9.32,"logSFR":0.60},{"logM":9.34,"logSFR":1.75},{"logM":9.36,"logSFR":1.60},{"logM":9.38,"logSFR":-0.80},{"logM":9.40,"logSFR":0.20},{"logM":9.44,"logSFR":0.95},{"logM":9.46,"logSFR":-1.50},{"logM":9.48,"logSFR":1.35},{"logM":9.52,"logSFR":0.70},{"logM":9.54,"logSFR":-0.20},{"logM":9.56,"logSFR":1.25},{"logM":9.58,"logSFR":1.90},{"logM":9.60,"logSFR":0.40},{"logM":9.64,"logSFR":1.70},{"logM":9.66,"logSFR":-0.70},{"logM":9.68,"logSFR":1.00},{"logM":9.72,"logSFR":0.55},{"logM":9.74,"logSFR":-1.75},{"logM":9.76,"logSFR":1.45},{"logM":9.78,"logSFR":-0.10},{"logM":9.80,"logSFR":0.85},{"logM":9.82,"logSFR":1.05},{"logM":9.84,"logSFR":1.85},{"logM":9.88,"logSFR":0.30},{"logM":9.90,"logSFR":-1.20},{"logM":9.92,"logSFR":1.20},{"logM":9.96,"logSFR":1.60},{"logM":10.00,"logSFR":1.35},{"logM":10.04,"logSFR":0.80},{"logM":10.06,"logSFR":-0.40},{"logM":10.08,"logSFR":1.80},{"logM":10.10,"logSFR":2.05},{"logM":10.12,"logSFR":1.10},{"logM":10.16,"logSFR":0.50},{"logM":10.18,"logSFR":-0.90},{"logM":10.20,"logSFR":1.55},{"logM":10.24,"logSFR":2.00},{"logM":10.28,"logSFR":0.95},{"logM":10.30,"logSFR":-0.30},{"logM":10.32,"logSFR":1.40},{"logM":10.36,"logSFR":0.70},{"logM":10.38,"logSFR":2.20},{"logM":10.40,"logSFR":1.90},{"logM":10.40,"logSFR":-0.05},{"logM":10.42,"logSFR":-1.40},{"logM":10.44,"logSFR":1.20},{"logM":10.48,"logSFR":0.40},{"logM":10.52,"logSFR":1.70},{"logM":10.55,"logSFR":-0.50},{"logM":10.56,"logSFR":1.00},{"logM":10.60,"logSFR":2.10},{"logM":10.60,"logSFR":-1.10},{"logM":10.64,"logSFR":1.35},{"logM":10.65,"logSFR":0.10},{"logM":10.68,"logSFR":0.75},{"logM":10.68,"logSFR":-0.05},{"logM":10.70,"logSFR":-0.80},{"logM":10.72,"logSFR":1.85},{"logM":10.75,"logSFR":-1.60},{"logM":10.76,"logSFR":1.15},{"logM":10.78,"logSFR":-1.95},{"logM":10.80,"logSFR":2.30},{"logM":10.80,"logSFR":-0.30},{"logM":10.84,"logSFR":0.90},{"logM":10.85,"logSFR":-1.00},{"logM":10.88,"logSFR":1.60},{"logM":10.90,"logSFR":0.20},{"logM":10.92,"logSFR":2.00},{"logM":10.95,"logSFR":-0.60},{"logM":10.96,"logSFR":1.25},{"logM":10.98,"logSFR":0.35},{"logM":11.00,"logSFR":0.60},{"logM":11.00,"logSFR":-1.30},{"logM":11.05,"logSFR":1.90},{"logM":11.05,"logSFR":-0.15},{"logM":11.10,"logSFR":1.40},{"logM":11.10,"logSFR":-0.90},{"logM":11.12,"logSFR":-1.85},{"logM":11.15,"logSFR":2.25},{"logM":11.15,"logSFR":-1.50},{"logM":11.20,"logSFR":1.00},{"logM":11.20,"logSFR":0.05},{"logM":11.25,"logSFR":1.70},{"logM":11.25,"logSFR":-0.45},{"logM":11.30,"logSFR":0.80},{"logM":11.30,"logSFR":-1.15},{"logM":11.35,"logSFR":2.05},{"logM":11.35,"logSFR":-0.75},{"logM":11.38,"logSFR":0.30},{"logM":11.40,"logSFR":-1.80},{"logM":11.45,"logSFR":-0.20},{"logM":11.48,"logSFR":-1.60},{"logM":11.50,"logSFR":-1.00},{"logM":11.55,"logSFR":-0.55},{"logM":11.58,"logSFR":-0.25},{"logM":11.60,"logSFR":-1.35},{"logM":11.65,"logSFR":0.15},{"logM":11.70,"logSFR":-0.70},
{"logM":7.92,"logSFR":0.05},{"logM":7.97,"logSFR":-0.42},{"logM":8.02,"logSFR":0.36},{"logM":8.07,"logSFR":-0.11},{"logM":8.12,"logSFR":0.57},{"logM":8.16,"logSFR":-0.20},{"logM":8.21,"logSFR":0.33},{"logM":8.26,"logSFR":-0.29},{"logM":8.31,"logSFR":0.24},{"logM":8.36,"logSFR":0.67},{"logM":8.40,"logSFR":0.04},{"logM":8.44,"logSFR":0.51},{"logM":8.48,"logSFR":-0.21},{"logM":8.52,"logSFR":0.41},{"logM":8.56,"logSFR":0.89},{"logM":8.59,"logSFR":0.10},{"logM":8.63,"logSFR":0.63},{"logM":8.67,"logSFR":0.35},{"logM":8.71,"logSFR":-0.02},{"logM":8.74,"logSFR":0.84},{"logM":8.77,"logSFR":0.46},{"logM":8.81,"logSFR":0.79},{"logM":8.84,"logSFR":0.15},{"logM":8.87,"logSFR":1.12},{"logM":8.91,"logSFR":0.45},{"logM":8.94,"logSFR":0.71},{"logM":8.97,"logSFR":0.13},{"logM":9.01,"logSFR":1.06},{"logM":9.05,"logSFR":0.63},{"logM":9.07,"logSFR":0.34},{"logM":9.11,"logSFR":0.92},{"logM":9.15,"logSFR":0.54},{"logM":9.18,"logSFR":1.26},{"logM":9.21,"logSFR":0.23},{"logM":9.23,"logSFR":0.84},{"logM":9.27,"logSFR":1.11},{"logM":9.30,"logSFR":0.53},{"logM":9.33,"logSFR":0.85},{"logM":9.37,"logSFR":0.42},{"logM":9.39,"logSFR":1.28},{"logM":9.42,"logSFR":1.00},{"logM":9.45,"logSFR":0.77},{"logM":9.47,"logSFR":1.48},{"logM":9.50,"logSFR":0.55},{"logM":9.53,"logSFR":1.17},{"logM":9.55,"logSFR":0.88},{"logM":9.58,"logSFR":1.35},{"logM":9.61,"logSFR":0.52},{"logM":9.63,"logSFR":1.08},{"logM":9.65,"logSFR":1.54},{"logM":9.67,"logSFR":0.80},{"logM":9.70,"logSFR":1.32},{"logM":9.73,"logSFR":0.69},{"logM":9.75,"logSFR":1.10},{"logM":9.77,"logSFR":1.56},{"logM":9.79,"logSFR":0.92},{"logM":9.81,"logSFR":1.34},{"logM":9.83,"logSFR":0.60},{"logM":9.86,"logSFR":1.52},{"logM":9.89,"logSFR":1.13},{"logM":9.91,"logSFR":0.85},{"logM":9.94,"logSFR":1.36},{"logM":9.97,"logSFR":1.78},{"logM":9.99,"logSFR":0.99},{"logM":10.02,"logSFR":1.56},{"logM":10.05,"logSFR":0.83},{"logM":10.07,"logSFR":1.34},{"logM":10.09,"logSFR":1.70},{"logM":10.11,"logSFR":1.17},{"logM":10.14,"logSFR":1.53},{"logM":10.17,"logSFR":0.85},{"logM":10.19,"logSFR":1.36},{"logM":10.22,"logSFR":1.83},{"logM":10.25,"logSFR":1.10},{"logM":10.27,"logSFR":1.56},{"logM":10.31,"logSFR":1.34},{"logM":10.34,"logSFR":1.80},{"logM":10.37,"logSFR":1.07},{"logM":10.39,"logSFR":1.53},{"logM":10.43,"logSFR":2.01},{"logM":10.46,"logSFR":1.33},{"logM":10.50,"logSFR":1.75},{"logM":10.53,"logSFR":1.12},{"logM":10.57,"logSFR":1.59},{"logM":10.62,"logSFR":2.02},{"logM":10.66,"logSFR":1.40},{"logM":10.71,"logSFR":1.78},{"logM":10.74,"logSFR":1.19},{"logM":10.79,"logSFR":2.02},{"logM":10.83,"logSFR":1.60},{"logM":10.87,"logSFR":1.97},{"logM":10.93,"logSFR":1.46},{"logM":10.99,"logSFR":1.89},{"logM":11.04,"logSFR":1.62},{"logM":11.08,"logSFR":2.20},{"logM":11.13,"logSFR":1.43},{"logM":11.18,"logSFR":1.91},{"logM":11.23,"logSFR":2.24},{"logM":11.28,"logSFR":1.72},{"logM":11.34,"logSFR":2.10},{"logM":11.42,"logSFR":1.70},{"logM":11.52,"logSFR":2.16},
{"logM":7.95,"logSFR":-0.18},{"logM":8.00,"logSFR":0.42},{"logM":8.05,"logSFR":-0.59},{"logM":8.10,"logSFR":0.14},{"logM":8.15,"logSFR":0.64},{"logM":8.20,"logSFR":-0.26},{"logM":8.25,"logSFR":0.37},{"logM":8.30,"logSFR":0.13},{"logM":8.35,"logSFR":0.89},{"logM":8.40,"logSFR":-0.24},{"logM":8.45,"logSFR":0.59},{"logM":8.50,"logSFR":0.05},{"logM":8.55,"logSFR":0.45},{"logM":8.60,"logSFR":-0.34},{"logM":8.65,"logSFR":0.87},{"logM":8.70,"logSFR":0.27},{"logM":8.75,"logSFR":0.87},{"logM":8.80,"logSFR":-0.14},{"logM":8.85,"logSFR":0.59},{"logM":8.90,"logSFR":1.09},{"logM":8.95,"logSFR":0.19},{"logM":9.00,"logSFR":0.82},{"logM":9.05,"logSFR":0.58},{"logM":9.10,"logSFR":1.34},{"logM":9.15,"logSFR":0.21},{"logM":9.20,"logSFR":1.04},{"logM":9.25,"logSFR":0.50},{"logM":9.30,"logSFR":0.90},{"logM":9.35,"logSFR":0.11},{"logM":9.40,"logSFR":1.32},{"logM":9.45,"logSFR":0.72},{"logM":9.50,"logSFR":1.32},{"logM":9.55,"logSFR":0.31},{"logM":9.60,"logSFR":1.04},{"logM":9.65,"logSFR":1.54},{"logM":9.70,"logSFR":0.64},{"logM":9.75,"logSFR":1.27},{"logM":9.80,"logSFR":1.03},{"logM":9.85,"logSFR":1.79},{"logM":9.90,"logSFR":0.66},{"logM":9.95,"logSFR":1.49},{"logM":10.00,"logSFR":0.95},{"logM":10.05,"logSFR":1.35},{"logM":10.10,"logSFR":0.56},{"logM":10.15,"logSFR":1.77},{"logM":10.20,"logSFR":1.17},{"logM":10.25,"logSFR":1.77},{"logM":10.30,"logSFR":0.76},{"logM":10.35,"logSFR":1.49},{"logM":10.40,"logSFR":1.99},{"logM":10.45,"logSFR":1.09},{"logM":10.50,"logSFR":1.72},{"logM":10.55,"logSFR":1.48},{"logM":10.60,"logSFR":2.24},{"logM":10.65,"logSFR":1.11},{"logM":10.70,"logSFR":1.94},{"logM":10.75,"logSFR":1.40},{"logM":10.80,"logSFR":1.80},{"logM":10.85,"logSFR":1.01},{"logM":10.90,"logSFR":2.22},{"logM":10.95,"logSFR":1.62},{"logM":11.00,"logSFR":2.22},{"logM":11.05,"logSFR":1.21},{"logM":11.10,"logSFR":1.94},{"logM":11.15,"logSFR":2.19},{"logM":11.20,"logSFR":1.54},{"logM":11.25,"logSFR":2.17},{"logM":11.30,"logSFR":1.93},{"logM":11.35,"logSFR":2.21},{"logM":11.40,"logSFR":1.56},{"logM":11.45,"logSFR":2.07},
{"logM":8.20,"logSFR":0.17},{"logM":8.24,"logSFR":-0.16},{"logM":8.28,"logSFR":0.52},{"logM":8.32,"logSFR":0.07},{"logM":8.36,"logSFR":0.42},{"logM":8.40,"logSFR":-0.21},{"logM":8.44,"logSFR":0.54},{"logM":8.48,"logSFR":0.27},{"logM":8.52,"logSFR":0.71},{"logM":8.56,"logSFR":0.12},{"logM":8.60,"logSFR":0.48},{"logM":8.64,"logSFR":0.03},{"logM":8.68,"logSFR":0.66},{"logM":8.72,"logSFR":0.35},{"logM":8.76,"logSFR":0.61},{"logM":8.80,"logSFR":0.53},{"logM":8.84,"logSFR":0.20},{"logM":8.88,"logSFR":0.88},{"logM":8.92,"logSFR":0.43},{"logM":8.96,"logSFR":0.78},{"logM":9.00,"logSFR":0.15},{"logM":9.04,"logSFR":0.90},{"logM":9.08,"logSFR":0.63},{"logM":9.12,"logSFR":1.07},{"logM":9.16,"logSFR":0.48},{"logM":9.20,"logSFR":0.84},{"logM":9.24,"logSFR":0.39},{"logM":9.28,"logSFR":1.02},{"logM":9.32,"logSFR":0.71},{"logM":9.36,"logSFR":0.97},{"logM":9.40,"logSFR":0.89},{"logM":9.44,"logSFR":0.56},{"logM":9.48,"logSFR":1.24},{"logM":9.52,"logSFR":0.79},{"logM":9.56,"logSFR":1.14},{"logM":9.60,"logSFR":0.51},{"logM":9.64,"logSFR":1.26},{"logM":9.68,"logSFR":0.99},{"logM":9.72,"logSFR":1.43},{"logM":9.76,"logSFR":0.84},{"logM":9.80,"logSFR":1.20},{"logM":9.84,"logSFR":0.75},{"logM":9.88,"logSFR":1.38},{"logM":9.92,"logSFR":1.07},{"logM":9.96,"logSFR":1.33},{"logM":10.00,"logSFR":1.25},{"logM":10.04,"logSFR":0.92},{"logM":10.08,"logSFR":1.60},{"logM":10.12,"logSFR":1.15},{"logM":10.16,"logSFR":1.50},{"logM":10.20,"logSFR":0.87},{"logM":10.24,"logSFR":1.62},{"logM":10.28,"logSFR":1.35},{"logM":10.32,"logSFR":1.79},{"logM":10.36,"logSFR":1.20},{"logM":10.40,"logSFR":1.56},{"logM":10.44,"logSFR":1.11},{"logM":10.48,"logSFR":1.74},{"logM":10.52,"logSFR":1.43},{"logM":10.56,"logSFR":1.69},{"logM":10.60,"logSFR":1.61},{"logM":10.65,"logSFR":1.29},{"logM":10.70,"logSFR":1.97},{"logM":10.75,"logSFR":1.53},{"logM":10.80,"logSFR":1.88},{"logM":10.85,"logSFR":1.26},{"logM":10.90,"logSFR":2.02},{"logM":10.95,"logSFR":1.75},{"logM":11.00,"logSFR":2.10},{"logM":11.06,"logSFR":1.62},{"logM":11.12,"logSFR":1.99},{"logM":11.18,"logSFR":1.56},{"logM":11.25,"logSFR":2.15},
{"logM":8.68,"logSFR":2.40,"big":1},{"logM":9.10,"logSFR":2.10,"big":1},{"logM":9.35,"logSFR":2.15,"big":1},{"logM":9.50,"logSFR":1.30,"big":1},{"logM":9.60,"logSFR":2.05,"big":1},{"logM":9.70,"logSFR":1.75,"big":1},{"logM":9.85,"logSFR":2.20,"big":1},{"logM":9.95,"logSFR":1.55,"big":1},{"logM":10.00,"logSFR":2.45,"big":1},{"logM":10.05,"logSFR":1.95,"big":1},{"logM":10.15,"logSFR":2.35,"big":1},{"logM":10.20,"logSFR":1.30,"big":1},{"logM":10.25,"logSFR":1.65,"big":1},{"logM":10.35,"logSFR":2.10,"big":1},{"logM":10.40,"logSFR":2.55,"big":1},{"logM":10.45,"logSFR":1.45,"big":1},{"logM":10.55,"logSFR":2.40,"big":1},{"logM":10.60,"logSFR":1.80,"big":1},{"logM":10.65,"logSFR":2.55,"big":1},{"logM":10.70,"logSFR":2.20,"big":1},{"logM":10.75,"logSFR":1.55,"big":1},{"logM":10.80,"logSFR":2.70,"big":1},{"logM":10.85,"logSFR":2.05,"big":1},{"logM":10.90,"logSFR":2.50,"big":1},{"logM":10.95,"logSFR":1.20,"big":1},{"logM":11.00,"logSFR":1.75,"big":1},{"logM":11.05,"logSFR":2.25,"big":1},{"logM":11.10,"logSFR":1.95,"big":1},{"logM":11.20,"logSFR":2.45,"big":1},{"logM":11.25,"logSFR":1.60,"big":1},{"logM":11.30,"logSFR":2.15,"big":1},{"logM":11.35,"logSFR":2.65,"big":1},{"logM":11.40,"logSFR":1.85,"big":1},{"logM":11.40,"logSFR":1.40,"big":1},{"logM":11.45,"logSFR":2.40,"big":1},{"logM":11.50,"logSFR":2.55,"big":1},{"logM":11.55,"logSFR":2.10,"big":1},{"logM":11.60,"logSFR":1.70,"big":1}],
"p4":[{"logM":8.40,"logSFR":0.33},{"logM":8.45,"logSFR":0.05},{"logM":8.50,"logSFR":0.45},{"logM":8.52,"logSFR":-0.25},{"logM":8.55,"logSFR":0.20},{"logM":8.58,"logSFR":0.37},{"logM":8.60,"logSFR":-0.10},{"logM":8.65,"logSFR":0.55},{"logM":8.70,"logSFR":0.30},{"logM":8.72,"logSFR":-0.30},{"logM":8.75,"logSFR":0.05},{"logM":8.80,"logSFR":0.70},{"logM":8.82,"logSFR":-0.45},{"logM":8.85,"logSFR":0.40},{"logM":8.88,"logSFR":0.15},{"logM":8.90,"logSFR":-0.20},{"logM":8.95,"logSFR":0.85},{"logM":8.98,"logSFR":0.55},{"logM":9.00,"logSFR":0.30},{"logM":9.02,"logSFR":0.75},{"logM":9.04,"logSFR":0.95},{"logM":9.06,"logSFR":1.00},{"logM":9.08,"logSFR":0.60},{"logM":9.12,"logSFR":0.10},{"logM":9.14,"logSFR":-0.40},{"logM":9.16,"logSFR":1.05},{"logM":9.18,"logSFR":-0.60},{"logM":9.20,"logSFR":0.45},{"logM":9.22,"logSFR":-0.90},{"logM":9.24,"logSFR":0.80},{"logM":9.26,"logSFR":0.25},{"logM":9.28,"logSFR":-0.15},{"logM":9.30,"logSFR":1.30},{"logM":9.32,"logSFR":1.15},{"logM":9.36,"logSFR":0.65},{"logM":9.38,"logSFR":-0.30},{"logM":9.40,"logSFR":0.35},{"logM":9.42,"logSFR":-0.65},{"logM":9.44,"logSFR":1.25},{"logM":9.46,"logSFR":0.50},{"logM":9.48,"logSFR":0.90},{"logM":9.50,"logSFR":1.10},{"logM":9.50,"logSFR":-0.26},{"logM":9.53,"logSFR":0.70},{"logM":9.55,"logSFR":-0.10},{"logM":9.56,"logSFR":1.40},{"logM":9.59,"logSFR":0.40},{"logM":9.60,"logSFR":1.35},{"logM":9.62,"logSFR":1.00},{"logM":9.64,"logSFR":-0.31},{"logM":9.65,"logSFR":1.55},{"logM":9.68,"logSFR":0.20},{"logM":9.70,"logSFR":0.05},{"logM":9.71,"logSFR":0.85},{"logM":9.74,"logSFR":1.25},{"logM":9.77,"logSFR":0.55},{"logM":9.80,"logSFR":1.60},{"logM":9.80,"logSFR":-0.75},{"logM":9.82,"logSFR":-0.20},{"logM":9.83,"logSFR":1.00},{"logM":9.86,"logSFR":0.30},{"logM":9.86,"logSFR":-0.04},{"logM":9.89,"logSFR":1.35},{"logM":9.90,"logSFR":0.00},{"logM":9.90,"logSFR":-0.95},{"logM":9.92,"logSFR":0.75},{"logM":9.95,"logSFR":1.70},{"logM":9.96,"logSFR":0.45},{"logM":9.97,"logSFR":-0.04},{"logM":9.98,"logSFR":1.15},{"logM":10.00,"logSFR":1.50},{"logM":10.02,"logSFR":0.30},{"logM":10.04,"logSFR":0.95},{"logM":10.05,"logSFR":-0.85},{"logM":10.06,"logSFR":1.15},{"logM":10.08,"logSFR":1.80},{"logM":10.10,"logSFR":0.00},{"logM":10.12,"logSFR":1.25},{"logM":10.12,"logSFR":-0.26},{"logM":10.16,"logSFR":0.60},{"logM":10.19,"logSFR":-1.16},{"logM":10.20,"logSFR":1.60},{"logM":10.22,"logSFR":0.20},{"logM":10.24,"logSFR":2.00},{"logM":10.27,"logSFR":-0.58},{"logM":10.28,"logSFR":-0.23},{"logM":10.28,"logSFR":1.05},{"logM":10.30,"logSFR":-0.20},{"logM":10.32,"logSFR":1.45},{"logM":10.34,"logSFR":0.40},{"logM":10.35,"logSFR":-1.00},{"logM":10.36,"logSFR":0.80},{"logM":10.37,"logSFR":-0.36},{"logM":10.40,"logSFR":1.85},{"logM":10.42,"logSFR":0.10},{"logM":10.43,"logSFR":-0.63},{"logM":10.44,"logSFR":1.30},{"logM":10.45,"logSFR":-1.35},{"logM":10.46,"logSFR":0.95},{"logM":10.48,"logSFR":0.55},{"logM":10.50,"logSFR":0.28},{"logM":10.52,"logSFR":1.70},{"logM":10.53,"logSFR":-0.26},{"logM":10.55,"logSFR":-1.96},{"logM":10.56,"logSFR":1.10},{"logM":10.58,"logSFR":-0.90},{"logM":10.58,"logSFR":-0.04},{"logM":10.60,"logSFR":2.05},{"logM":10.63,"logSFR":0.22},{"logM":10.64,"logSFR":1.45},{"logM":10.66,"logSFR":-0.52},{"logM":10.67,"logSFR":-0.20},{"logM":10.68,"logSFR":0.92},{"logM":10.70,"logSFR":-1.96},{"logM":10.72,"logSFR":1.85},{"logM":10.76,"logSFR":1.30},{"logM":10.76,"logSFR":0.33},{"logM":10.79,"logSFR":0.60},{"logM":10.80,"logSFR":2.20},{"logM":10.84,"logSFR":0.87},{"logM":10.84,"logSFR":-1.96},{"logM":10.88,"logSFR":1.60},{"logM":10.89,"logSFR":0.71},{"logM":10.91,"logSFR":-1.38},{"logM":10.92,"logSFR":2.00},{"logM":10.95,"logSFR":-1.30},{"logM":10.94,"logSFR":1.13},{"logM":10.96,"logSFR":1.40},{"logM":10.99,"logSFR":-0.36},{"logM":10.99,"logSFR":-1.64},{"logM":11.00,"logSFR":1.29},{"logM":11.01,"logSFR":-1.61},{"logM":11.02,"logSFR":-1.11},{"logM":11.04,"logSFR":-0.36},{"logM":11.05,"logSFR":1.85},{"logM":11.09,"logSFR":0.28},{"logM":11.10,"logSFR":1.55},{"logM":11.12,"logSFR":-1.32},{"logM":11.14,"logSFR":-0.63},{"logM":11.15,"logSFR":-1.64},{"logM":11.14,"logSFR":-1.96},{"logM":11.15,"logSFR":2.20},{"logM":11.20,"logSFR":1.20},{"logM":11.25,"logSFR":1.95},{"logM":11.27,"logSFR":-1.96},{"logM":11.30,"logSFR":1.65},{"logM":11.30,"logSFR":-0.47},{"logM":11.35,"logSFR":2.30},{"logM":11.40,"logSFR":1.75},{"logM":11.43,"logSFR":-0.63},{"logM":11.45,"logSFR":-0.04},{"logM":11.71,"logSFR":0.44},{"logM":11.73,"logSFR":0.33},
{"logM":8.47,"logSFR":0.38},{"logM":8.53,"logSFR":-0.08},{"logM":8.57,"logSFR":0.60},{"logM":8.62,"logSFR":0.19},{"logM":8.66,"logSFR":0.37},{"logM":8.69,"logSFR":-0.05},{"logM":8.73,"logSFR":0.68},{"logM":8.77,"logSFR":0.21},{"logM":8.81,"logSFR":0.54},{"logM":8.84,"logSFR":0.02},{"logM":8.87,"logSFR":0.89},{"logM":8.91,"logSFR":0.42},{"logM":8.93,"logSFR":0.69},{"logM":8.96,"logSFR":0.21},{"logM":8.99,"logSFR":1.03},{"logM":9.01,"logSFR":0.55},{"logM":9.03,"logSFR":0.11},{"logM":9.05,"logSFR":0.88},{"logM":9.07,"logSFR":0.44},{"logM":9.10,"logSFR":1.07},{"logM":9.13,"logSFR":0.69},{"logM":9.15,"logSFR":0.36},{"logM":9.17,"logSFR":0.92},{"logM":9.19,"logSFR":0.19},{"logM":9.21,"logSFR":1.25},{"logM":9.23,"logSFR":0.62},{"logM":9.25,"logSFR":0.89},{"logM":9.27,"logSFR":0.40},{"logM":9.29,"logSFR":1.17},{"logM":9.31,"logSFR":0.78},{"logM":9.33,"logSFR":0.25},{"logM":9.35,"logSFR":1.06},{"logM":9.37,"logSFR":0.63},{"logM":9.39,"logSFR":1.34},{"logM":9.41,"logSFR":0.96},{"logM":9.43,"logSFR":0.48},{"logM":9.45,"logSFR":1.19},{"logM":9.47,"logSFR":0.81},{"logM":9.49,"logSFR":1.52},{"logM":9.51,"logSFR":0.64},{"logM":9.52,"logSFR":1.10},{"logM":9.54,"logSFR":0.46},{"logM":9.57,"logSFR":1.33},{"logM":9.58,"logSFR":0.94},{"logM":9.61,"logSFR":1.52},{"logM":9.63,"logSFR":0.78},{"logM":9.66,"logSFR":1.15},{"logM":9.67,"logSFR":0.61},{"logM":9.69,"logSFR":1.48},{"logM":9.72,"logSFR":0.95},{"logM":9.73,"logSFR":1.31},{"logM":9.75,"logSFR":0.78},{"logM":9.76,"logSFR":1.73},{"logM":9.78,"logSFR":1.20},{"logM":9.79,"logSFR":0.61},{"logM":9.81,"logSFR":1.47},{"logM":9.84,"logSFR":0.95},{"logM":9.85,"logSFR":1.70},{"logM":9.87,"logSFR":1.17},{"logM":9.88,"logSFR":0.83},{"logM":9.91,"logSFR":1.50},{"logM":9.93,"logSFR":1.07},{"logM":9.94,"logSFR":1.82},{"logM":9.97,"logSFR":0.80},{"logM":9.99,"logSFR":1.41},{"logM":10.01,"logSFR":1.03},{"logM":10.03,"logSFR":1.74},{"logM":10.05,"logSFR":1.26},{"logM":10.07,"logSFR":1.57},{"logM":10.09,"logSFR":0.99},{"logM":10.11,"logSFR":1.91},{"logM":10.13,"logSFR":1.42},{"logM":10.15,"logSFR":0.89},{"logM":10.17,"logSFR":1.75},{"logM":10.18,"logSFR":1.26},{"logM":10.21,"logSFR":1.58},{"logM":10.23,"logSFR":1.15},{"logM":10.25,"logSFR":1.97},{"logM":10.26,"logSFR":1.47},{"logM":10.29,"logSFR":1.80},{"logM":10.31,"logSFR":1.11},{"logM":10.33,"logSFR":1.63},{"logM":10.35,"logSFR":1.99},{"logM":10.38,"logSFR":1.37},{"logM":10.39,"logSFR":1.77},{"logM":10.41,"logSFR":1.14},{"logM":10.44,"logSFR":1.96},{"logM":10.47,"logSFR":1.54},{"logM":10.49,"logSFR":2.20},{"logM":10.51,"logSFR":1.37},{"logM":10.54,"logSFR":1.84},{"logM":10.57,"logSFR":1.66},{"logM":10.59,"logSFR":2.13},{"logM":10.62,"logSFR":1.40},{"logM":10.65,"logSFR":1.98},{"logM":10.67,"logSFR":1.64},{"logM":10.71,"logSFR":2.27},{"logM":10.74,"logSFR":1.45},{"logM":10.78,"logSFR":1.98},{"logM":10.82,"logSFR":1.71},{"logM":10.86,"logSFR":2.24},{"logM":10.90,"logSFR":1.62},{"logM":10.94,"logSFR":2.15},{"logM":10.98,"logSFR":1.89},{"logM":11.03,"logSFR":2.42},{"logM":11.07,"logSFR":1.80},{"logM":11.12,"logSFR":2.19},{"logM":11.18,"logSFR":1.74},{"logM":11.23,"logSFR":2.43},{"logM":11.29,"logSFR":2.08},{"logM":11.36,"logSFR":1.83},
{"logM":8.50,"logSFR":0.05},{"logM":8.54,"logSFR":0.65},{"logM":8.58,"logSFR":-0.36},{"logM":8.62,"logSFR":0.37},{"logM":8.66,"logSFR":0.87},{"logM":8.70,"logSFR":-0.02},{"logM":8.74,"logSFR":0.61},{"logM":8.78,"logSFR":0.37},{"logM":8.82,"logSFR":1.13},{"logM":8.86,"logSFR":0.00},{"logM":8.90,"logSFR":0.83},{"logM":8.94,"logSFR":0.29},{"logM":8.98,"logSFR":0.69},{"logM":9.02,"logSFR":-0.09},{"logM":9.06,"logSFR":1.12},{"logM":9.10,"logSFR":0.52},{"logM":9.14,"logSFR":1.12},{"logM":9.18,"logSFR":0.11},{"logM":9.22,"logSFR":0.84},{"logM":9.26,"logSFR":1.34},{"logM":9.30,"logSFR":0.44},{"logM":9.34,"logSFR":1.08},{"logM":9.38,"logSFR":0.84},{"logM":9.42,"logSFR":1.60},{"logM":9.46,"logSFR":0.47},{"logM":9.50,"logSFR":1.30},{"logM":9.54,"logSFR":0.76},{"logM":9.58,"logSFR":1.16},{"logM":9.62,"logSFR":0.37},{"logM":9.66,"logSFR":1.58},{"logM":9.70,"logSFR":0.99},{"logM":9.74,"logSFR":1.59},{"logM":9.78,"logSFR":0.58},{"logM":9.82,"logSFR":1.31},{"logM":9.86,"logSFR":1.81},{"logM":9.90,"logSFR":0.91},{"logM":9.94,"logSFR":1.54},{"logM":9.98,"logSFR":1.30},{"logM":10.02,"logSFR":2.07},{"logM":10.06,"logSFR":0.94},{"logM":10.10,"logSFR":1.77},{"logM":10.14,"logSFR":1.23},{"logM":10.18,"logSFR":1.63},{"logM":10.22,"logSFR":0.84},{"logM":10.26,"logSFR":2.05},{"logM":10.30,"logSFR":1.45},{"logM":10.34,"logSFR":2.06},{"logM":10.38,"logSFR":1.05},{"logM":10.42,"logSFR":1.78},{"logM":10.46,"logSFR":2.28},{"logM":10.50,"logSFR":1.38},{"logM":10.54,"logSFR":2.01},{"logM":10.58,"logSFR":1.77},{"logM":10.62,"logSFR":2.45},{"logM":10.66,"logSFR":1.40},{"logM":10.70,"logSFR":2.24},{"logM":10.74,"logSFR":1.70},{"logM":10.78,"logSFR":2.10},{"logM":10.82,"logSFR":1.31},{"logM":10.86,"logSFR":2.44},{"logM":10.90,"logSFR":1.92},{"logM":10.94,"logSFR":2.40},{"logM":10.98,"logSFR":1.51},{"logM":11.02,"logSFR":2.25},{"logM":11.06,"logSFR":2.55},{"logM":11.10,"logSFR":1.85},{"logM":11.15,"logSFR":2.42},{"logM":11.20,"logSFR":2.26},{"logM":11.26,"logSFR":1.90},{"logM":11.32,"logSFR":2.50},{"logM":11.38,"logSFR":2.15},
{"logM":8.60,"logSFR":0.33},{"logM":8.64,"logSFR":0.01},{"logM":8.67,"logSFR":0.68},{"logM":8.71,"logSFR":0.24},{"logM":8.74,"logSFR":0.59},{"logM":8.78,"logSFR":-0.03},{"logM":8.81,"logSFR":0.72},{"logM":8.85,"logSFR":0.45},{"logM":8.88,"logSFR":0.90},{"logM":8.92,"logSFR":0.31},{"logM":8.95,"logSFR":0.67},{"logM":8.99,"logSFR":0.23},{"logM":9.02,"logSFR":0.86},{"logM":9.06,"logSFR":0.56},{"logM":9.09,"logSFR":0.81},{"logM":9.13,"logSFR":0.74},{"logM":9.16,"logSFR":0.41},{"logM":9.20,"logSFR":1.10},{"logM":9.23,"logSFR":0.65},{"logM":9.27,"logSFR":1.00},{"logM":9.30,"logSFR":0.37},{"logM":9.34,"logSFR":1.14},{"logM":9.37,"logSFR":0.86},{"logM":9.41,"logSFR":1.31},{"logM":9.44,"logSFR":0.71},{"logM":9.48,"logSFR":1.08},{"logM":9.51,"logSFR":0.64},{"logM":9.55,"logSFR":1.27},{"logM":9.58,"logSFR":0.96},{"logM":9.62,"logSFR":1.22},{"logM":9.65,"logSFR":1.15},{"logM":9.69,"logSFR":0.83},{"logM":9.72,"logSFR":1.50},{"logM":9.76,"logSFR":1.06},{"logM":9.79,"logSFR":1.41},{"logM":9.83,"logSFR":0.79},{"logM":9.86,"logSFR":1.54},{"logM":9.90,"logSFR":1.27},{"logM":9.93,"logSFR":1.72},{"logM":9.97,"logSFR":1.13},{"logM":10.00,"logSFR":1.49},{"logM":10.04,"logSFR":1.05},{"logM":10.07,"logSFR":1.68},{"logM":10.11,"logSFR":1.38},{"logM":10.14,"logSFR":1.63},{"logM":10.18,"logSFR":1.56},{"logM":10.21,"logSFR":1.23},{"logM":10.25,"logSFR":1.92},{"logM":10.28,"logSFR":1.47},{"logM":10.32,"logSFR":1.82},{"logM":10.35,"logSFR":1.19},{"logM":10.39,"logSFR":1.95},{"logM":10.42,"logSFR":1.68},{"logM":10.46,"logSFR":2.13},{"logM":10.49,"logSFR":1.53},{"logM":10.53,"logSFR":1.90},{"logM":10.56,"logSFR":1.46},{"logM":10.60,"logSFR":2.09},{"logM":10.63,"logSFR":1.78},{"logM":10.67,"logSFR":2.04},{"logM":10.70,"logSFR":1.97},{"logM":10.74,"logSFR":1.65},{"logM":10.78,"logSFR":2.33},{"logM":10.82,"logSFR":1.89},{"logM":10.86,"logSFR":2.24},{"logM":10.90,"logSFR":1.62},{"logM":10.94,"logSFR":2.38},{"logM":10.98,"logSFR":2.11},{"logM":11.03,"logSFR":2.47},{"logM":11.08,"logSFR":1.99},{"logM":11.14,"logSFR":2.38},{"logM":11.20,"logSFR":1.96},{"logM":11.27,"logSFR":2.51},
{"logM":9.22,"logSFR":1.43,"big":1},{"logM":9.24,"logSFR":2.06,"big":1},{"logM":9.48,"logSFR":2.17,"big":1},{"logM":9.60,"logSFR":1.95,"big":1},{"logM":9.71,"logSFR":2.04,"big":1},{"logM":9.80,"logSFR":2.35,"big":1},{"logM":9.88,"logSFR":2.15,"big":1},{"logM":9.95,"logSFR":1.80,"big":1},{"logM":10.00,"logSFR":2.40,"big":1},{"logM":10.05,"logSFR":2.05,"big":1},{"logM":10.10,"logSFR":2.30,"big":1},{"logM":10.15,"logSFR":1.85,"big":1},{"logM":10.20,"logSFR":1.60,"big":1},{"logM":10.25,"logSFR":2.20,"big":1},{"logM":10.30,"logSFR":2.45,"big":1},{"logM":10.35,"logSFR":2.00,"big":1},{"logM":10.40,"logSFR":1.75,"big":1},{"logM":10.45,"logSFR":2.35,"big":1},{"logM":10.50,"logSFR":2.60,"big":1},{"logM":10.55,"logSFR":2.15,"big":1},{"logM":10.55,"logSFR":2.75,"big":1},{"logM":10.60,"logSFR":2.50,"big":1},{"logM":10.65,"logSFR":1.90,"big":1},{"logM":10.70,"logSFR":2.30,"big":1},{"logM":10.75,"logSFR":2.65,"big":1},{"logM":10.80,"logSFR":2.00,"big":1},{"logM":10.80,"logSFR":2.85,"big":1},{"logM":10.85,"logSFR":2.45,"big":1},{"logM":10.90,"logSFR":2.75,"big":1},{"logM":10.95,"logSFR":2.10,"big":1},{"logM":11.00,"logSFR":2.55,"big":1},{"logM":11.05,"logSFR":2.85,"big":1},{"logM":11.09,"logSFR":1.88,"big":1},{"logM":11.10,"logSFR":2.40,"big":1},{"logM":11.10,"logSFR":3.00,"big":1},{"logM":11.14,"logSFR":1.72,"big":1},{"logM":11.15,"logSFR":2.25,"big":1},{"logM":11.20,"logSFR":2.70,"big":1},{"logM":11.22,"logSFR":2.10,"big":1},{"logM":11.25,"logSFR":2.95,"big":1},{"logM":11.30,"logSFR":2.50,"big":1},{"logM":11.32,"logSFR":1.60,"big":1},{"logM":11.35,"logSFR":2.80,"big":1},{"logM":11.35,"logSFR":1.42,"big":1},{"logM":11.40,"logSFR":2.20,"big":1},{"logM":11.40,"logSFR":1.95,"big":1},{"logM":11.45,"logSFR":1.40,"big":1},{"logM":11.50,"logSFR":2.45,"big":1},{"logM":11.50,"logSFR":3.06,"big":1},{"logM":11.56,"logSFR":2.68,"big":1}],
"h1":[{"lo":-2.26,"hi":-1.96,"all":12.5,"sub":0},{"lo":-1.96,"hi":-1.66,"all":20,"sub":0},{"lo":-1.66,"hi":-1.36,"all":20,"sub":9},{"lo":-1.36,"hi":-1.06,"all":19,"sub":27},{"lo":-1.06,"hi":-0.76,"all":12.5,"sub":65},{"lo":-0.76,"hi":-0.46,"all":7,"sub":55.5},{"lo":-0.46,"hi":-0.16,"all":3,"sub":27},{"lo":-0.16,"hi":0.14,"all":8.5,"sub":6},{"lo":0.14,"hi":0.44,"all":18,"sub":18},{"lo":0.44,"hi":0.74,"all":66.5,"sub":45.5},{"lo":0.74,"hi":1.04,"all":65,"sub":36.5},{"lo":1.04,"hi":1.34,"all":35,"sub":9},{"lo":1.34,"hi":1.64,"all":19.5,"sub":8},{"lo":1.64,"hi":1.94,"all":8.5,"sub":9},{"lo":1.94,"hi":2.24,"all":0,"sub":0},{"lo":2.24,"hi":2.54,"all":0,"sub":0},{"lo":2.54,"hi":2.84,"all":0,"sub":0},{"lo":2.84,"hi":3.14,"all":0,"sub":0},{"lo":3.14,"hi":3.44,"all":0,"sub":0}],
"h2":[{"lo":-2.26,"hi":-1.96,"all":8.5,"sub":10},{"lo":-1.96,"hi":-1.66,"all":8.5,"sub":24},{"lo":-1.66,"hi":-1.36,"all":10,"sub":9},{"lo":-1.36,"hi":-1.06,"all":13,"sub":11},{"lo":-1.06,"hi":-0.76,"all":15,"sub":15},{"lo":-0.76,"hi":-0.46,"all":13,"sub":24},{"lo":-0.46,"hi":-0.16,"all":7,"sub":10},{"lo":-0.16,"hi":0.14,"all":3.3,"sub":5},{"lo":0.14,"hi":0.44,"all":16.7,"sub":16},{"lo":0.44,"hi":0.74,"all":41,"sub":20},{"lo":0.74,"hi":1.04,"all":64.3,"sub":26},{"lo":1.04,"hi":1.34,"all":62.7,"sub":26},{"lo":1.34,"hi":1.64,"all":41,"sub":32},{"lo":1.64,"hi":1.94,"all":18.7,"sub":36.5},{"lo":1.94,"hi":2.24,"all":3.3,"sub":13},{"lo":2.24,"hi":2.54,"all":0,"sub":3},{"lo":2.54,"hi":2.84,"all":0,"sub":0},{"lo":2.84,"hi":3.14,"all":0,"sub":0},{"lo":3.14,"hi":3.44,"all":0,"sub":0}],
"h3":[{"lo":-2.26,"hi":-1.96,"all":1,"sub":4},{"lo":-1.96,"hi":-1.66,"all":2,"sub":6},{"lo":-1.66,"hi":-1.36,"all":4.3,"sub":7.7},{"lo":-1.36,"hi":-1.06,"all":6,"sub":12.7},{"lo":-1.06,"hi":-0.76,"all":11,"sub":30.3},{"lo":-0.76,"hi":-0.46,"all":11,"sub":30.3},{"lo":-0.46,"hi":-0.16,"all":7.7,"sub":25.3},{"lo":-0.16,"hi":0.14,"all":7.7,"sub":9.3},{"lo":0.14,"hi":0.44,"all":13.3,"sub":10},{"lo":0.44,"hi":0.74,"all":17.7,"sub":11},{"lo":0.74,"hi":1.04,"all":42,"sub":13},{"lo":1.04,"hi":1.34,"all":63.3,"sub":18.7},{"lo":1.34,"hi":1.64,"all":59.3,"sub":45.3},{"lo":1.64,"hi":1.94,"all":47.7,"sub":52},{"lo":1.94,"hi":2.24,"all":21,"sub":30.3},{"lo":2.24,"hi":2.54,"all":2.7,"sub":18.7},{"lo":2.54,"hi":2.84,"all":2.7,"sub":6},{"lo":2.84,"hi":3.14,"all":0,"sub":3},{"lo":3.14,"hi":3.44,"all":0,"sub":0}],
"h4":[{"lo":-2.26,"hi":-1.96,"all":0,"sub":6},{"lo":-1.96,"hi":-1.66,"all":0,"sub":13.3},{"lo":-1.66,"hi":-1.36,"all":0,"sub":4.3},{"lo":-1.36,"hi":-1.06,"all":0,"sub":6},{"lo":-1.06,"hi":-0.76,"all":1,"sub":14.3},{"lo":-0.76,"hi":-0.46,"all":3.3,"sub":19.3},{"lo":-0.46,"hi":-0.16,"all":6,"sub":14.3},{"lo":-0.16,"hi":0.14,"all":8.7,"sub":16.7},{"lo":0.14,"hi":0.44,"all":9.3,"sub":13.3},{"lo":0.44,"hi":0.74,"all":22,"sub":3.3},{"lo":0.74,"hi":1.04,"all":46,"sub":6},{"lo":1.04,"hi":1.34,"all":47.7,"sub":9.3},{"lo":1.34,"hi":1.64,"all":39.3,"sub":14.3},{"lo":1.64,"hi":1.94,"all":52.7,"sub":21},{"lo":1.94,"hi":2.24,"all":47.7,"sub":24.3},{"lo":2.24,"hi":2.54,"all":27.7,"sub":62.7},{"lo":2.54,"hi":2.84,"all":11,"sub":62.7},{"lo":2.84,"hi":3.14,"all":1,"sub":21},{"lo":3.14,"hi":3.44,"all":0,"sub":0}]
},
"columns":2,"spacing":0,"bounds":"flush",
"concat":[
 {"width":335,"height":167,"layer":[
  {"data":{"name":"p1"},"mark":{"type":"circle","color":"black","opacity":1},
   "encoding":{"x":{"field":"logM","type":"quantitative","scale":{"domain":[6.911,12.065],"nice":false,"zero":false},"axis":{"orient":"bottom","values":[6.954,7,7.301,7.477,7.602,7.699,7.778,7.845,7.903,7.954,8,8.301,8.477,8.602,8.699,8.778,8.845,8.903,8.954,9,9.301,9.477,9.602,9.699,9.778,9.845,9.903,9.954,10,10.301,10.477,10.602,10.699,10.778,10.845,10.903,10.954,11,11.301,11.477,11.602,11.699,11.778,11.845,11.903,11.954,12],"tickSize":{"condition":{"test":"datum.value % 1 == 0","value":-11},"value":-6},"labels":false,"title":null}},
   "y":{"field":"logSFR","type":"quantitative","scale":{"domain":[-2.16,3.19],"nice":false,"zero":false},"axis":{"orient":"left","values":[-2.155,-2.097,-2.046,-2,-1.699,-1.523,-1.398,-1.301,-1.222,-1.155,-1.097,-1.046,-1,-0.699,-0.523,-0.398,-0.301,-0.222,-0.155,-0.097,-0.046,0,0.301,0.477,0.602,0.699,0.778,0.845,0.903,0.954,1,1.301,1.477,1.602,1.699,1.778,1.845,1.903,1.954,2,2.301,2.477,2.602,2.699,2.778,2.845,2.903,2.954,3],"tickSize":{"condition":{"test":"datum.value % 1 == 0","value":-10},"value":-5},"labelExpr":"datum.value == 3 ? '1000' : datum.value == 2 ? '100' : datum.value == 1 ? '10' : datum.value == 0 ? '1' : datum.value == -1 ? '0.1' : datum.value == -2 ? '0.01' : ''","labelFont":"Liberation Sans","labelFontSize":16,"labelPadding":20,"title":"SFR (M☉yr⁻¹)","titleFont":"Liberation Sans","titleFontSize":17,"titleFontWeight":"normal","titlePadding":17,"minExtent":46,"maxExtent":46}},
   "size":{"condition":{"test":"datum.big","value":36},"value":13}}},
  {"data":{"values":[{"logM":7,"logSFR":-1.38},{"logM":12,"logSFR":2.04}]},"mark":{"type":"line","color":"#ff0000","strokeWidth":1.5,"clip":true},
   "encoding":{"x":{"field":"logM","type":"quantitative","axis":{"orient":"top","values":[6.954,7,7.301,7.477,7.602,7.699,7.778,7.845,7.903,7.954,8,8.301,8.477,8.602,8.699,8.778,8.845,8.903,8.954,9,9.301,9.477,9.602,9.699,9.778,9.845,9.903,9.954,10,10.301,10.477,10.602,10.699,10.778,10.845,10.903,10.954,11,11.301,11.477,11.602,11.699,11.778,11.845,11.903,11.954,12],"tickSize":{"condition":{"test":"datum.value % 1 == 0","value":-11},"value":-6},"labels":false,"title":null}},
   "y":{"field":"logSFR","type":"quantitative","axis":{"orient":"right","values":[-2.155,-2.097,-2.046,-2,-1.699,-1.523,-1.398,-1.301,-1.222,-1.155,-1.097,-1.046,-1,-0.699,-0.523,-0.398,-0.301,-0.222,-0.155,-0.097,-0.046,0,0.301,0.477,0.602,0.699,0.778,0.845,0.903,0.954,1,1.301,1.477,1.602,1.699,1.778,1.845,1.903,1.954,2,2.301,2.477,2.602,2.699,2.778,2.845,2.903,2.954,3],"tickSize":{"condition":{"test":"datum.value % 1 == 0","value":-10},"value":-5},"labels":false,"title":null}}}},
  {"data":{"values":[{"label":"0.3\u2002≦\u2003z\u2002<\u20020.6"}]},"mark":{"type":"text","align":"left","baseline":"middle","font":"Liberation Sans","fontSize":18,"color":"black"},
   "encoding":{"text":{"field":"label"},"x":{"datum":7.515,"type":"quantitative","axis":null},"y":{"datum":2.65,"type":"quantitative","axis":null}}}
 ],"resolve":{"axis":{"x":"independent","y":"independent"}}},
 {"width":84,"height":167,"data":{"name":"h1"},"layer":[
  {"mark":{"type":"rect","fill":"#ff0000","fillOpacity":0.25,"clip":true},"encoding":{"x":{"field":"sub","type":"quantitative","scale":{"domain":[0,84],"nice":false},"axis":null},"x2":{"datum":0},"y":{"field":"lo","type":"quantitative","scale":{"domain":[-2.16,3.19],"nice":false,"zero":false},"axis":null},"y2":{"field":"hi"}}},
  {"mark":{"type":"line","color":"#ff0000","strokeWidth":1,"interpolate":"step-before","clip":true},"encoding":{"x":{"field":"sub","type":"quantitative","axis":null},"y":{"field":"lo","type":"quantitative","axis":null},"order":{"field":"lo","type":"quantitative"}}},
  {"mark":{"type":"line","color":"black","strokeWidth":1.5,"interpolate":"step-before","clip":true},"encoding":{"x":{"field":"all","type":"quantitative","axis":null},"y":{"field":"lo","type":"quantitative","axis":null},"order":{"field":"lo","type":"quantitative"}}}
 ]},
 {"width":335,"height":167,"layer":[
  {"data":{"name":"p2"},"mark":{"type":"circle","color":"black","opacity":1},
   "encoding":{"x":{"field":"logM","type":"quantitative","scale":{"domain":[6.911,12.065],"nice":false,"zero":false},"axis":{"orient":"bottom","values":[6.954,7,7.301,7.477,7.602,7.699,7.778,7.845,7.903,7.954,8,8.301,8.477,8.602,8.699,8.778,8.845,8.903,8.954,9,9.301,9.477,9.602,9.699,9.778,9.845,9.903,9.954,10,10.301,10.477,10.602,10.699,10.778,10.845,10.903,10.954,11,11.301,11.477,11.602,11.699,11.778,11.845,11.903,11.954,12],"tickSize":{"condition":{"test":"datum.value % 1 == 0","value":-11},"value":-6},"labels":false,"title":null}},
   "y":{"field":"logSFR","type":"quantitative","scale":{"domain":[-2.16,3.19],"nice":false,"zero":false},"axis":{"orient":"left","values":[-2.155,-2.097,-2.046,-2,-1.699,-1.523,-1.398,-1.301,-1.222,-1.155,-1.097,-1.046,-1,-0.699,-0.523,-0.398,-0.301,-0.222,-0.155,-0.097,-0.046,0,0.301,0.477,0.602,0.699,0.778,0.845,0.903,0.954,1,1.301,1.477,1.602,1.699,1.778,1.845,1.903,1.954,2,2.301,2.477,2.602,2.699,2.778,2.845,2.903,2.954,3],"tickSize":{"condition":{"test":"datum.value % 1 == 0","value":-10},"value":-5},"labelExpr":"datum.value == 3 ? '1000' : datum.value == 2 ? '100' : datum.value == 1 ? '10' : datum.value == 0 ? '1' : datum.value == -1 ? '0.1' : datum.value == -2 ? '0.01' : ''","labelFont":"Liberation Sans","labelFontSize":16,"labelPadding":20,"title":"SFR (M☉yr⁻¹)","titleFont":"Liberation Sans","titleFontSize":17,"titleFontWeight":"normal","titlePadding":17,"minExtent":46,"maxExtent":46}},
   "size":{"condition":{"test":"datum.big","value":36},"value":13}}},
  {"data":{"values":[{"logM":7,"logSFR":-1.23},{"logM":12,"logSFR":2.23}]},"mark":{"type":"line","color":"#ff0000","strokeWidth":1.5,"clip":true},
   "encoding":{"x":{"field":"logM","type":"quantitative","axis":{"orient":"top","values":[6.954,7,7.301,7.477,7.602,7.699,7.778,7.845,7.903,7.954,8,8.301,8.477,8.602,8.699,8.778,8.845,8.903,8.954,9,9.301,9.477,9.602,9.699,9.778,9.845,9.903,9.954,10,10.301,10.477,10.602,10.699,10.778,10.845,10.903,10.954,11,11.301,11.477,11.602,11.699,11.778,11.845,11.903,11.954,12],"tickSize":{"condition":{"test":"datum.value % 1 == 0","value":-11},"value":-6},"labels":false,"title":null}},
   "y":{"field":"logSFR","type":"quantitative","axis":{"orient":"right","values":[-2.155,-2.097,-2.046,-2,-1.699,-1.523,-1.398,-1.301,-1.222,-1.155,-1.097,-1.046,-1,-0.699,-0.523,-0.398,-0.301,-0.222,-0.155,-0.097,-0.046,0,0.301,0.477,0.602,0.699,0.778,0.845,0.903,0.954,1,1.301,1.477,1.602,1.699,1.778,1.845,1.903,1.954,2,2.301,2.477,2.602,2.699,2.778,2.845,2.903,2.954,3],"tickSize":{"condition":{"test":"datum.value % 1 == 0","value":-10},"value":-5},"labels":false,"title":null}}}},
  {"data":{"values":[{"label":"0.6\u2002≦\u2003z\u2002<\u20021.0"}]},"mark":{"type":"text","align":"left","baseline":"middle","font":"Liberation Sans","fontSize":18,"color":"black"},
   "encoding":{"text":{"field":"label"},"x":{"datum":7.515,"type":"quantitative","axis":null},"y":{"datum":2.65,"type":"quantitative","axis":null}}}
 ],"resolve":{"axis":{"x":"independent","y":"independent"}}},
 {"width":84,"height":167,"data":{"name":"h2"},"layer":[
  {"mark":{"type":"rect","fill":"#ff0000","fillOpacity":0.25,"clip":true},"encoding":{"x":{"field":"sub","type":"quantitative","scale":{"domain":[0,84],"nice":false},"axis":null},"x2":{"datum":0},"y":{"field":"lo","type":"quantitative","scale":{"domain":[-2.16,3.19],"nice":false,"zero":false},"axis":null},"y2":{"field":"hi"}}},
  {"mark":{"type":"line","color":"#ff0000","strokeWidth":1,"interpolate":"step-before","clip":true},"encoding":{"x":{"field":"sub","type":"quantitative","axis":null},"y":{"field":"lo","type":"quantitative","axis":null},"order":{"field":"lo","type":"quantitative"}}},
  {"mark":{"type":"line","color":"black","strokeWidth":1.5,"interpolate":"step-before","clip":true},"encoding":{"x":{"field":"all","type":"quantitative","axis":null},"y":{"field":"lo","type":"quantitative","axis":null},"order":{"field":"lo","type":"quantitative"}}}
 ]},
 {"width":335,"height":167,"layer":[
  {"data":{"name":"p3"},"mark":{"type":"circle","color":"black","opacity":1},
   "encoding":{"x":{"field":"logM","type":"quantitative","scale":{"domain":[6.911,12.065],"nice":false,"zero":false},"axis":{"orient":"bottom","values":[6.954,7,7.301,7.477,7.602,7.699,7.778,7.845,7.903,7.954,8,8.301,8.477,8.602,8.699,8.778,8.845,8.903,8.954,9,9.301,9.477,9.602,9.699,9.778,9.845,9.903,9.954,10,10.301,10.477,10.602,10.699,10.778,10.845,10.903,10.954,11,11.301,11.477,11.602,11.699,11.778,11.845,11.903,11.954,12],"tickSize":{"condition":{"test":"datum.value % 1 == 0","value":-11},"value":-6},"labels":false,"title":null}},
   "y":{"field":"logSFR","type":"quantitative","scale":{"domain":[-2.16,3.19],"nice":false,"zero":false},"axis":{"orient":"left","values":[-2.155,-2.097,-2.046,-2,-1.699,-1.523,-1.398,-1.301,-1.222,-1.155,-1.097,-1.046,-1,-0.699,-0.523,-0.398,-0.301,-0.222,-0.155,-0.097,-0.046,0,0.301,0.477,0.602,0.699,0.778,0.845,0.903,0.954,1,1.301,1.477,1.602,1.699,1.778,1.845,1.903,1.954,2,2.301,2.477,2.602,2.699,2.778,2.845,2.903,2.954,3],"tickSize":{"condition":{"test":"datum.value % 1 == 0","value":-10},"value":-5},"labelExpr":"datum.value == 3 ? '1000' : datum.value == 2 ? '100' : datum.value == 1 ? '10' : datum.value == 0 ? '1' : datum.value == -1 ? '0.1' : datum.value == -2 ? '0.01' : ''","labelFont":"Liberation Sans","labelFontSize":16,"labelPadding":20,"title":"SFR (M☉yr⁻¹)","titleFont":"Liberation Sans","titleFontSize":17,"titleFontWeight":"normal","titlePadding":17,"minExtent":46,"maxExtent":46}},
   "size":{"condition":{"test":"datum.big","value":36},"value":13}}},
  {"data":{"values":[{"logM":7,"logSFR":-0.97},{"logM":12,"logSFR":2.30}]},"mark":{"type":"line","color":"#ff0000","strokeWidth":1.5,"clip":true},
   "encoding":{"x":{"field":"logM","type":"quantitative","axis":{"orient":"top","values":[6.954,7,7.301,7.477,7.602,7.699,7.778,7.845,7.903,7.954,8,8.301,8.477,8.602,8.699,8.778,8.845,8.903,8.954,9,9.301,9.477,9.602,9.699,9.778,9.845,9.903,9.954,10,10.301,10.477,10.602,10.699,10.778,10.845,10.903,10.954,11,11.301,11.477,11.602,11.699,11.778,11.845,11.903,11.954,12],"tickSize":{"condition":{"test":"datum.value % 1 == 0","value":-11},"value":-6},"labels":false,"title":null}},
   "y":{"field":"logSFR","type":"quantitative","axis":{"orient":"right","values":[-2.155,-2.097,-2.046,-2,-1.699,-1.523,-1.398,-1.301,-1.222,-1.155,-1.097,-1.046,-1,-0.699,-0.523,-0.398,-0.301,-0.222,-0.155,-0.097,-0.046,0,0.301,0.477,0.602,0.699,0.778,0.845,0.903,0.954,1,1.301,1.477,1.602,1.699,1.778,1.845,1.903,1.954,2,2.301,2.477,2.602,2.699,2.778,2.845,2.903,2.954,3],"tickSize":{"condition":{"test":"datum.value % 1 == 0","value":-10},"value":-5},"labels":false,"title":null}}}},
  {"data":{"values":[{"label":"1.0\u2002≦\u2003z\u2002<\u20021.5"}]},"mark":{"type":"text","align":"left","baseline":"middle","font":"Liberation Sans","fontSize":18,"color":"black"},
   "encoding":{"text":{"field":"label"},"x":{"datum":7.515,"type":"quantitative","axis":null},"y":{"datum":2.65,"type":"quantitative","axis":null}}}
 ],"resolve":{"axis":{"x":"independent","y":"independent"}}},
 {"width":84,"height":167,"data":{"name":"h3"},"layer":[
  {"mark":{"type":"rect","fill":"#ff0000","fillOpacity":0.25,"clip":true},"encoding":{"x":{"field":"sub","type":"quantitative","scale":{"domain":[0,84],"nice":false},"axis":null},"x2":{"datum":0},"y":{"field":"lo","type":"quantitative","scale":{"domain":[-2.16,3.19],"nice":false,"zero":false},"axis":null},"y2":{"field":"hi"}}},
  {"mark":{"type":"line","color":"#ff0000","strokeWidth":1,"interpolate":"step-before","clip":true},"encoding":{"x":{"field":"sub","type":"quantitative","axis":null},"y":{"field":"lo","type":"quantitative","axis":null},"order":{"field":"lo","type":"quantitative"}}},
  {"mark":{"type":"line","color":"black","strokeWidth":1.5,"interpolate":"step-before","clip":true},"encoding":{"x":{"field":"all","type":"quantitative","axis":null},"y":{"field":"lo","type":"quantitative","axis":null},"order":{"field":"lo","type":"quantitative"}}}
 ]},
 {"width":335,"height":167,"layer":[
  {"data":{"name":"p4"},"mark":{"type":"circle","color":"black","opacity":1},
   "encoding":{"x":{"field":"logM","type":"quantitative","scale":{"domain":[6.911,12.065],"nice":false,"zero":false},"axis":{"orient":"bottom","values":[6.954,7,7.301,7.477,7.602,7.699,7.778,7.845,7.903,7.954,8,8.301,8.477,8.602,8.699,8.778,8.845,8.903,8.954,9,9.301,9.477,9.602,9.699,9.778,9.845,9.903,9.954,10,10.301,10.477,10.602,10.699,10.778,10.845,10.903,10.954,11,11.301,11.477,11.602,11.699,11.778,11.845,11.903,11.954,12],"tickSize":{"condition":{"test":"datum.value % 1 == 0","value":-11},"value":-6},"labelExpr":"datum.value == 7 ? '10⁷' : datum.value == 8 ? '10⁸' : datum.value == 9 ? '10⁹' : datum.value == 10 ? '10¹⁰' : datum.value == 11 ? '10¹¹' : datum.value == 12 ? '10¹²' : ''","labelFont":"Liberation Serif","labelFontSize":17,"labelPadding":20,"title":"MASS (M☉)","titleFont":"Liberation Serif","titleFontSize":18,"titleFontWeight":"normal","titlePadding":8,"minExtent":26,"maxExtent":26}},
   "y":{"field":"logSFR","type":"quantitative","scale":{"domain":[-2.16,3.19],"nice":false,"zero":false},"axis":{"orient":"left","values":[-2.155,-2.097,-2.046,-2,-1.699,-1.523,-1.398,-1.301,-1.222,-1.155,-1.097,-1.046,-1,-0.699,-0.523,-0.398,-0.301,-0.222,-0.155,-0.097,-0.046,0,0.301,0.477,0.602,0.699,0.778,0.845,0.903,0.954,1,1.301,1.477,1.602,1.699,1.778,1.845,1.903,1.954,2,2.301,2.477,2.602,2.699,2.778,2.845,2.903,2.954,3],"tickSize":{"condition":{"test":"datum.value % 1 == 0","value":-10},"value":-5},"labelExpr":"datum.value == 3 ? '1000' : datum.value == 2 ? '100' : datum.value == 1 ? '10' : datum.value == 0 ? '1' : datum.value == -1 ? '0.1' : datum.value == -2 ? '0.01' : ''","labelFont":"Liberation Sans","labelFontSize":16,"labelPadding":20,"title":"SFR (M☉yr⁻¹)","titleFont":"Liberation Sans","titleFontSize":17,"titleFontWeight":"normal","titlePadding":17,"minExtent":46,"maxExtent":46}},
   "size":{"condition":{"test":"datum.big","value":36},"value":13}}},
  {"data":{"values":[{"logM":7,"logSFR":-1.27},{"logM":12,"logSFR":2.95}]},"mark":{"type":"line","color":"#ff0000","strokeWidth":1.5,"clip":true},
   "encoding":{"x":{"field":"logM","type":"quantitative","axis":{"orient":"top","values":[6.954,7,7.301,7.477,7.602,7.699,7.778,7.845,7.903,7.954,8,8.301,8.477,8.602,8.699,8.778,8.845,8.903,8.954,9,9.301,9.477,9.602,9.699,9.778,9.845,9.903,9.954,10,10.301,10.477,10.602,10.699,10.778,10.845,10.903,10.954,11,11.301,11.477,11.602,11.699,11.778,11.845,11.903,11.954,12],"tickSize":{"condition":{"test":"datum.value % 1 == 0","value":-11},"value":-6},"labels":false,"title":null}},
   "y":{"field":"logSFR","type":"quantitative","axis":{"orient":"right","values":[-2.155,-2.097,-2.046,-2,-1.699,-1.523,-1.398,-1.301,-1.222,-1.155,-1.097,-1.046,-1,-0.699,-0.523,-0.398,-0.301,-0.222,-0.155,-0.097,-0.046,0,0.301,0.477,0.602,0.699,0.778,0.845,0.903,0.954,1,1.301,1.477,1.602,1.699,1.778,1.845,1.903,1.954,2,2.301,2.477,2.602,2.699,2.778,2.845,2.903,2.954,3],"tickSize":{"condition":{"test":"datum.value % 1 == 0","value":-10},"value":-5},"labels":false,"title":null}}}},
  {"data":{"values":[{"logM":7,"logSFR":-1.28},{"logM":12,"logSFR":3.185}]},"mark":{"type":"line","color":"#22dd22","strokeWidth":1.5,"strokeDash":[10,6],"clip":true},
   "encoding":{"x":{"field":"logM","type":"quantitative","axis":null},"y":{"field":"logSFR","type":"quantitative","axis":null}}},
  {"data":{"values":[{"label":"1.5\u2002≦\u2003z\u2002<\u20022.5"}]},"mark":{"type":"text","align":"left","baseline":"middle","font":"Liberation Sans","fontSize":18,"color":"black"},
   "encoding":{"text":{"field":"label"},"x":{"datum":7.515,"type":"quantitative","axis":null},"y":{"datum":2.65,"type":"quantitative","axis":null}}}
 ],"resolve":{"axis":{"x":"independent","y":"independent"}}},
 {"width":84,"height":167,"data":{"name":"h4"},"layer":[
  {"mark":{"type":"rect","fill":"#ff0000","fillOpacity":0.25,"clip":true},"encoding":{"x":{"field":"sub","type":"quantitative","scale":{"domain":[0,84],"nice":false},"axis":null},"x2":{"datum":0},"y":{"field":"lo","type":"quantitative","scale":{"domain":[-2.16,3.19],"nice":false,"zero":false},"axis":null},"y2":{"field":"hi"}}},
  {"mark":{"type":"line","color":"#ff0000","strokeWidth":1,"interpolate":"step-before","clip":true},"encoding":{"x":{"field":"sub","type":"quantitative","axis":null},"y":{"field":"lo","type":"quantitative","axis":null},"order":{"field":"lo","type":"quantitative"}}},
  {"mark":{"type":"line","color":"black","strokeWidth":1.5,"interpolate":"step-before","clip":true},"encoding":{"x":{"field":"all","type":"quantitative","axis":null},"y":{"field":"lo","type":"quantitative","axis":null},"order":{"field":"lo","type":"quantitative"}}}
 ]}
]
}
